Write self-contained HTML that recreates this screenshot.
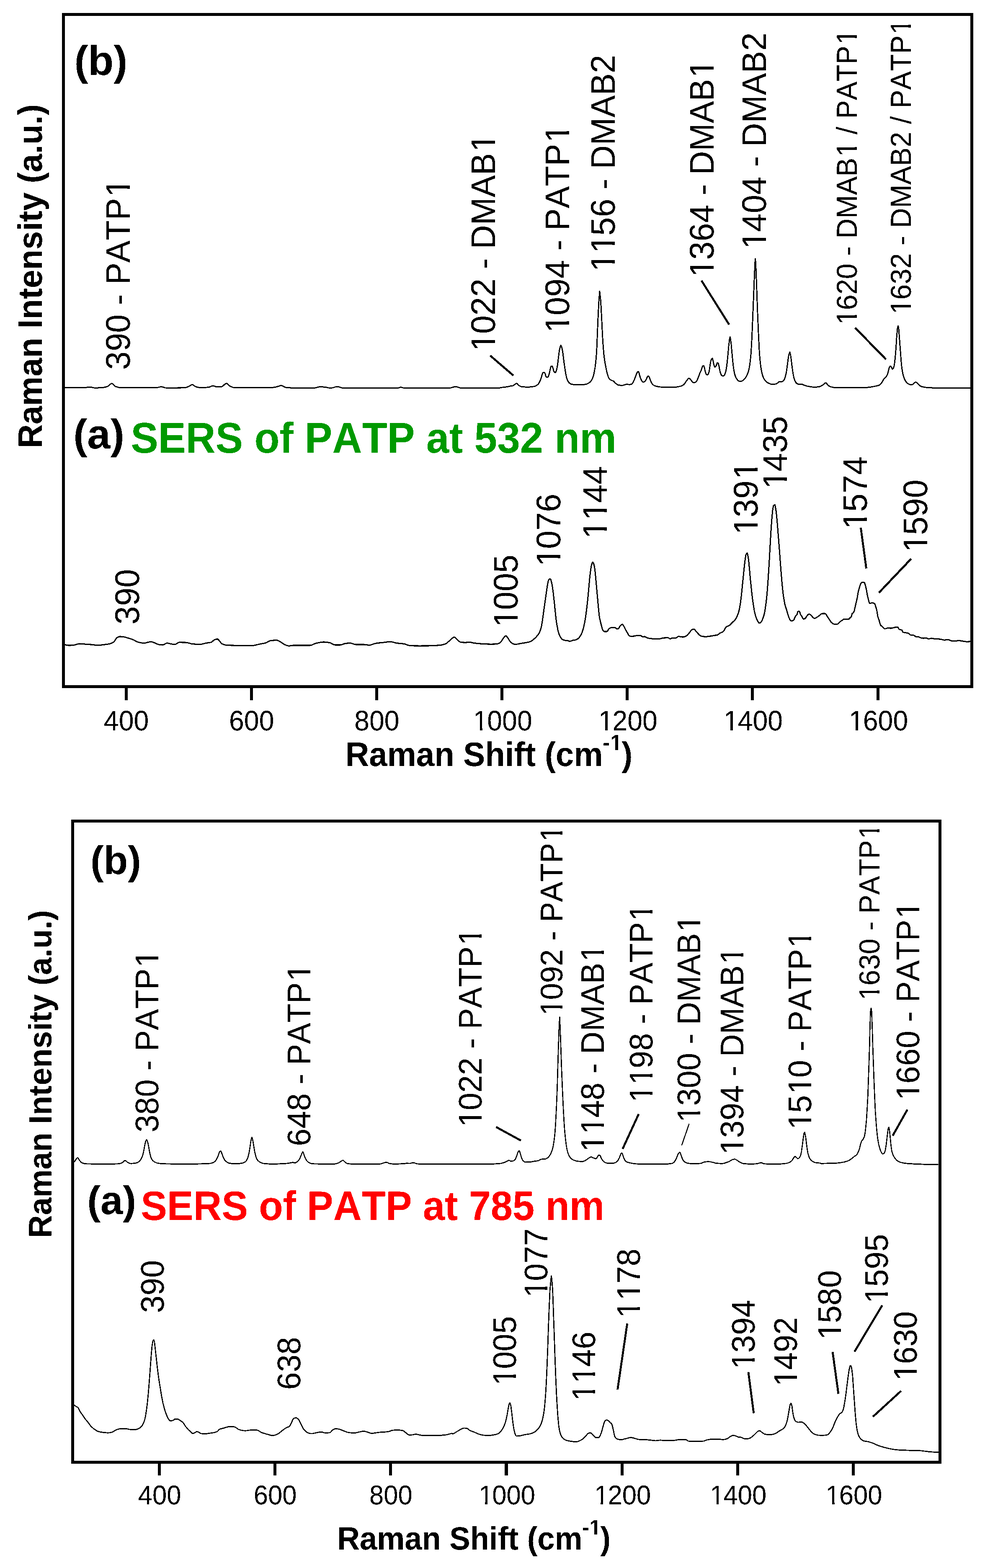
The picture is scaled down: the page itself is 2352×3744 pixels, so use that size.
<!DOCTYPE html>
<html lang="en">
<head>
<meta charset="utf-8">
<title>SERS of PATP at 532 nm and 785 nm</title>
<style>
html,body{margin:0;padding:0;background:#fff;}
body{width:2352px;height:3744px;overflow:hidden;}
svg{display:block;}
text{font-family:"Liberation Sans",sans-serif;font-kerning:none;text-rendering:geometricPrecision;white-space:pre;}
</style>
</head>
<body>
<svg width="2352" height="3744" viewBox="0 0 2352 3744">
<defs>
<filter id="bw" x="0" y="0" width="2352" height="3744" filterUnits="userSpaceOnUse" color-interpolation-filters="sRGB">
<feComponentTransfer><feFuncA type="discrete" tableValues="0 1"/></feComponentTransfer>
</filter>
<clipPath id="c1"><path clip-rule="evenodd" d="M-64.4 -83.7H207.7V32.2H-64.4ZM6.60 -5.03H18.14V1.93H6.60ZM24.21 -5.03H35.25V1.93H24.21Z"/></clipPath>
<clipPath id="c2"><path clip-rule="evenodd" d="M-64.4 -83.7H207.7V32.2H-64.4ZM6.60 -5.03H18.14V1.93H6.60ZM24.21 -5.03H35.25V1.93H24.21Z"/></clipPath>
<clipPath id="c3"><path clip-rule="evenodd" d="M-64.4 -83.7H207.7V32.2H-64.4ZM6.60 -5.03H18.14V1.93H6.60ZM24.21 -5.03H35.25V1.93H24.21Z"/></clipPath>
<clipPath id="c4"><path clip-rule="evenodd" d="M-64.4 -83.7H207.7V32.2H-64.4ZM6.60 -5.03H18.14V1.93H6.60ZM24.21 -5.03H35.25V1.93H24.21Z"/></clipPath>
<clipPath id="c5"><path clip-rule="evenodd" d="M-77.9 -124.6H778.6V46.7H-77.9ZM635.21 -41.93H644.04V-35.08H635.21ZM651.28 -41.93H659.46V-35.08H651.28Z"/></clipPath>
<clipPath id="c6"><path clip-rule="evenodd" d="M-79.3 -103.1H533.3V39.6H-79.3ZM418.03 -6.20H432.24V2.38H418.03ZM439.71 -6.20H453.30V2.38H439.71Z"/></clipPath>
<clipPath id="c7"><path clip-rule="evenodd" d="M-79.3 -103.1H599.4V39.6H-79.3ZM8.13 -6.20H22.34V2.38H8.13ZM29.81 -6.20H43.41V2.38H29.81ZM484.12 -6.20H498.34V2.38H484.12ZM505.81 -6.20H519.40V2.38H505.81Z"/></clipPath>
<clipPath id="c8"><path clip-rule="evenodd" d="M-79.3 -103.1H577.4V39.6H-79.3ZM8.13 -6.20H22.34V2.38H8.13ZM29.81 -6.20H43.41V2.38H29.81ZM462.13 -6.20H476.34V2.38H462.13ZM483.82 -6.20H497.41V2.38H483.82Z"/></clipPath>
<clipPath id="c9"><path clip-rule="evenodd" d="M-79.3 -103.1H599.4V39.6H-79.3ZM8.13 -6.20H22.34V2.38H8.13ZM29.81 -6.20H43.41V2.38H29.81ZM52.23 -6.20H66.44V2.38H52.23ZM73.92 -6.20H87.51V2.38H73.92Z"/></clipPath>
<clipPath id="c10"><path clip-rule="evenodd" d="M-79.3 -103.1H599.4V39.6H-79.3ZM8.13 -6.20H22.34V2.38H8.13ZM29.81 -6.20H43.41V2.38H29.81ZM484.12 -6.20H498.34V2.38H484.12ZM505.81 -6.20H519.40V2.38H505.81Z"/></clipPath>
<clipPath id="c11"><path clip-rule="evenodd" d="M-79.3 -103.1H599.4V39.6H-79.3ZM8.13 -6.20H22.34V2.38H8.13ZM29.81 -6.20H43.41V2.38H29.81Z"/></clipPath>
<clipPath id="c12"><path clip-rule="evenodd" d="M-66.8 -86.8H772.2V33.4H-66.8ZM6.85 -5.22H18.82V2.00H6.85ZM25.12 -5.22H36.56V2.00H25.12ZM407.81 -5.22H419.78V2.00H407.81ZM426.08 -5.22H437.53V2.00H426.08ZM675.11 -5.22H687.08V2.00H675.11ZM693.38 -5.22H704.82V2.00H693.38Z"/></clipPath>
<clipPath id="c13"><path clip-rule="evenodd" d="M-66.8 -86.8H772.2V33.4H-66.8ZM6.85 -5.22H18.82V2.00H6.85ZM25.12 -5.22H36.56V2.00H25.12ZM675.11 -5.22H687.08V2.00H675.11ZM693.38 -5.22H704.82V2.00H693.38Z"/></clipPath>
<clipPath id="c14"><path clip-rule="evenodd" d="M-79.3 -103.1H255.7V39.6H-79.3ZM8.13 -6.20H22.34V2.38H8.13ZM29.81 -6.20H43.41V2.38H29.81Z"/></clipPath>
<clipPath id="c15"><path clip-rule="evenodd" d="M-79.3 -103.1H255.7V39.6H-79.3ZM8.13 -6.20H22.34V2.38H8.13ZM29.81 -6.20H43.41V2.38H29.81Z"/></clipPath>
<clipPath id="c16"><path clip-rule="evenodd" d="M-79.3 -103.1H255.7V39.6H-79.3ZM8.13 -6.20H22.34V2.38H8.13ZM29.81 -6.20H43.41V2.38H29.81ZM52.23 -6.20H66.44V2.38H52.23ZM73.92 -6.20H87.51V2.38H73.92Z"/></clipPath>
<clipPath id="c17"><path clip-rule="evenodd" d="M-79.3 -103.1H255.7V39.6H-79.3ZM8.13 -6.20H22.34V2.38H8.13ZM29.81 -6.20H43.41V2.38H29.81ZM140.44 -6.20H154.65V2.38H140.44ZM162.12 -6.20H175.71V2.38H162.12Z"/></clipPath>
<clipPath id="c18"><path clip-rule="evenodd" d="M-79.3 -103.1H255.7V39.6H-79.3ZM8.13 -6.20H22.34V2.38H8.13ZM29.81 -6.20H43.41V2.38H29.81Z"/></clipPath>
<clipPath id="c19"><path clip-rule="evenodd" d="M-79.3 -103.1H255.7V39.6H-79.3ZM8.13 -6.20H22.34V2.38H8.13ZM29.81 -6.20H43.41V2.38H29.81Z"/></clipPath>
<clipPath id="c20"><path clip-rule="evenodd" d="M-79.3 -103.1H255.7V39.6H-79.3ZM8.13 -6.20H22.34V2.38H8.13ZM29.81 -6.20H43.41V2.38H29.81Z"/></clipPath>
<clipPath id="c21"><path clip-rule="evenodd" d="M-61.6 -80.1H198.6V30.8H-61.6ZM6.32 -4.81H17.36V1.85H6.32ZM23.16 -4.81H33.72V1.85H23.16Z"/></clipPath>
<clipPath id="c22"><path clip-rule="evenodd" d="M-61.6 -80.1H198.6V30.8H-61.6ZM6.32 -4.81H17.36V1.85H6.32ZM23.16 -4.81H33.72V1.85H23.16Z"/></clipPath>
<clipPath id="c23"><path clip-rule="evenodd" d="M-61.6 -80.1H198.6V30.8H-61.6ZM6.32 -4.81H17.36V1.85H6.32ZM23.16 -4.81H33.72V1.85H23.16Z"/></clipPath>
<clipPath id="c24"><path clip-rule="evenodd" d="M-61.6 -80.1H198.6V30.8H-61.6ZM6.32 -4.81H17.36V1.85H6.32ZM23.16 -4.81H33.72V1.85H23.16Z"/></clipPath>
<clipPath id="c25"><path clip-rule="evenodd" d="M-74.2 -118.7H741.7V44.5H-74.2ZM605.06 -39.94H613.46V-33.41H605.06ZM620.36 -39.94H628.15V-33.41H620.36Z"/></clipPath>
<clipPath id="c26"><path clip-rule="evenodd" d="M-75.7 -98.4H509.1V37.9H-75.7ZM399.05 -5.91H412.62V2.27H399.05ZM419.75 -5.91H432.72V2.27H419.75Z"/></clipPath>
<clipPath id="c27"><path clip-rule="evenodd" d="M-75.7 -98.4H509.1V37.9H-75.7ZM399.05 -5.91H412.62V2.27H399.05ZM419.75 -5.91H432.72V2.27H419.75Z"/></clipPath>
<clipPath id="c28"><path clip-rule="evenodd" d="M-75.7 -98.4H551.2V37.9H-75.7ZM7.76 -5.91H21.33V2.27H7.76ZM28.46 -5.91H41.44V2.27H28.46ZM441.15 -5.91H454.72V2.27H441.15ZM461.85 -5.91H474.83V2.27H461.85Z"/></clipPath>
<clipPath id="c29"><path clip-rule="evenodd" d="M-72.5 -94.2H527.9V36.2H-72.5ZM7.43 -5.66H20.43V2.17H7.43ZM27.26 -5.66H39.68V2.17H27.26ZM422.50 -5.66H435.50V2.17H422.50ZM442.33 -5.66H454.75V2.17H442.33Z"/></clipPath>
<clipPath id="c30"><path clip-rule="evenodd" d="M-75.7 -98.4H572.2V37.9H-75.7ZM7.76 -5.91H21.33V2.27H7.76ZM28.46 -5.91H41.44V2.27H28.46ZM49.86 -5.91H63.43V2.27H49.86ZM70.56 -5.91H83.54V2.27H70.56ZM462.15 -5.91H475.71V2.27H462.15ZM482.85 -5.91H495.82V2.27H482.85Z"/></clipPath>
<clipPath id="c31"><path clip-rule="evenodd" d="M-75.7 -98.4H551.2V37.9H-75.7ZM7.76 -5.91H21.33V2.27H7.76ZM28.46 -5.91H41.44V2.27H28.46ZM49.86 -5.91H63.43V2.27H49.86ZM70.56 -5.91H83.54V2.27H70.56ZM441.15 -5.91H454.72V2.27H441.15ZM461.85 -5.91H474.83V2.27H461.85Z"/></clipPath>
<clipPath id="c32"><path clip-rule="evenodd" d="M-75.7 -98.4H572.2V37.9H-75.7ZM7.76 -5.91H21.33V2.27H7.76ZM28.46 -5.91H41.44V2.27H28.46ZM462.15 -5.91H475.71V2.27H462.15ZM482.85 -5.91H495.82V2.27H482.85Z"/></clipPath>
<clipPath id="c33"><path clip-rule="evenodd" d="M-75.7 -98.4H572.2V37.9H-75.7ZM7.76 -5.91H21.33V2.27H7.76ZM28.46 -5.91H41.44V2.27H28.46ZM462.15 -5.91H475.71V2.27H462.15ZM482.85 -5.91H495.82V2.27H482.85Z"/></clipPath>
<clipPath id="c34"><path clip-rule="evenodd" d="M-75.7 -98.4H551.2V37.9H-75.7ZM7.76 -5.91H21.33V2.27H7.76ZM28.46 -5.91H41.44V2.27H28.46ZM91.96 -5.91H105.53V2.27H91.96ZM112.66 -5.91H125.64V2.27H112.66ZM441.15 -5.91H454.72V2.27H441.15ZM461.85 -5.91H474.83V2.27H461.85Z"/></clipPath>
<clipPath id="c35"><path clip-rule="evenodd" d="M-67.2 -87.4H489.3V33.6H-67.2ZM6.89 -5.25H18.93V2.02H6.89ZM25.27 -5.25H36.78V2.02H25.27ZM391.62 -5.25H403.66V2.02H391.62ZM409.99 -5.25H421.51V2.02H409.99Z"/></clipPath>
<clipPath id="c36"><path clip-rule="evenodd" d="M-75.7 -98.4H551.2V37.9H-75.7ZM7.76 -5.91H21.33V2.27H7.76ZM28.46 -5.91H41.44V2.27H28.46ZM441.15 -5.91H454.72V2.27H441.15ZM461.85 -5.91H474.83V2.27H461.85Z"/></clipPath>
<clipPath id="c37"><path clip-rule="evenodd" d="M-75.7 -98.4H244.1V37.9H-75.7ZM7.76 -5.91H21.33V2.27H7.76ZM28.46 -5.91H41.44V2.27H28.46Z"/></clipPath>
<clipPath id="c38"><path clip-rule="evenodd" d="M-75.7 -98.4H244.1V37.9H-75.7ZM7.76 -5.91H21.33V2.27H7.76ZM28.46 -5.91H41.44V2.27H28.46Z"/></clipPath>
<clipPath id="c39"><path clip-rule="evenodd" d="M-75.7 -98.4H244.1V37.9H-75.7ZM7.76 -5.91H21.33V2.27H7.76ZM28.46 -5.91H41.44V2.27H28.46ZM49.86 -5.91H63.43V2.27H49.86ZM70.56 -5.91H83.54V2.27H70.56Z"/></clipPath>
<clipPath id="c40"><path clip-rule="evenodd" d="M-75.7 -98.4H244.1V37.9H-75.7ZM7.76 -5.91H21.33V2.27H7.76ZM28.46 -5.91H41.44V2.27H28.46ZM49.86 -5.91H63.43V2.27H49.86ZM70.56 -5.91H83.54V2.27H70.56Z"/></clipPath>
<clipPath id="c41"><path clip-rule="evenodd" d="M-75.7 -98.4H244.1V37.9H-75.7ZM7.76 -5.91H21.33V2.27H7.76ZM28.46 -5.91H41.44V2.27H28.46Z"/></clipPath>
<clipPath id="c42"><path clip-rule="evenodd" d="M-75.7 -98.4H244.1V37.9H-75.7ZM7.76 -5.91H21.33V2.27H7.76ZM28.46 -5.91H41.44V2.27H28.46Z"/></clipPath>
<clipPath id="c43"><path clip-rule="evenodd" d="M-75.7 -98.4H244.1V37.9H-75.7ZM7.76 -5.91H21.33V2.27H7.76ZM28.46 -5.91H41.44V2.27H28.46Z"/></clipPath>
<clipPath id="c44"><path clip-rule="evenodd" d="M-75.7 -98.4H244.1V37.9H-75.7ZM7.76 -5.91H21.33V2.27H7.76ZM28.46 -5.91H41.44V2.27H28.46Z"/></clipPath>
<clipPath id="c45"><path clip-rule="evenodd" d="M-75.7 -98.4H244.1V37.9H-75.7ZM7.76 -5.91H21.33V2.27H7.76ZM28.46 -5.91H41.44V2.27H28.46Z"/></clipPath>
</defs>
<rect width="2352" height="3744" fill="#fff"/>
<g filter="url(#bw)">
<g id="top">
<path d="M150.7 925.8L152.2 925.8L153.8 925.8L155.3 925.8L156.8 925.8L158.3 925.8L159.8 925.8L161.4 925.8L162.9 925.8L164.4 925.8L165.9 925.8L167.4 925.8L169.0 925.8L170.5 925.8L172.0 925.8L173.5 925.8L175.0 925.8L176.6 925.8L178.1 925.8L179.6 925.8L181.1 925.8L182.7 925.8L184.2 925.8L185.7 925.8L187.2 925.8L188.7 925.8L190.3 925.8L191.8 925.8L193.3 925.8L194.8 925.8L196.3 925.8L197.9 925.8L199.4 925.8L200.9 925.8L202.5 925.7L204.1 925.5L205.7 925.2L207.3 924.9L208.8 924.6L210.4 924.3L212.0 924.1L213.6 924.0L215.2 924.1L216.8 924.3L218.4 924.7L220.0 925.1L221.6 925.5L223.2 925.8L224.7 926.1L226.3 926.2L227.9 926.2L229.4 926.1L230.9 926.1L232.4 926.1L233.9 926.0L235.4 926.0L236.9 925.9L238.5 925.8L240.0 925.7L241.5 925.6L243.0 925.5L244.5 925.4L246.1 925.3L247.7 925.1L249.3 924.8L250.9 924.4L252.5 924.0L254.1 923.6L255.6 923.1L257.2 922.5L258.6 921.8L260.0 920.7L261.4 919.3L262.8 918.0L264.2 916.8L265.7 915.9L267.1 915.6L268.4 916.1L269.8 917.2L271.2 918.7L272.6 920.3L274.0 921.7L275.4 922.5L276.9 923.1L278.3 923.6L279.8 924.0L281.2 924.5L282.7 924.8L284.1 925.2L285.6 925.4L287.0 925.6L288.5 925.8L290.0 925.8L291.4 925.8L292.9 925.8L294.4 925.8L295.9 925.8L297.4 925.8L298.9 925.8L300.4 925.8L301.9 925.8L303.3 925.8L304.8 925.8L306.3 925.8L307.8 925.8L309.3 925.8L310.8 925.8L312.3 925.8L313.7 925.8L315.2 925.8L316.7 925.8L318.2 925.8L319.7 925.8L321.2 925.8L322.7 925.8L324.2 925.8L325.6 925.8L327.1 925.8L328.6 925.8L330.1 925.8L331.6 925.8L333.1 925.8L334.6 925.8L336.1 925.8L337.5 925.8L339.0 925.8L340.5 925.8L342.0 925.8L343.5 925.8L345.0 925.8L346.5 925.8L348.0 925.8L349.4 925.8L350.9 925.8L352.4 925.8L353.9 925.8L355.4 925.8L356.9 925.8L358.4 925.8L359.8 925.8L361.3 925.8L362.8 925.8L364.3 925.8L365.8 925.8L367.3 925.8L368.8 925.8L370.3 925.8L371.7 925.8L373.2 925.7L374.7 925.5L376.2 925.2L377.7 924.9L379.2 924.5L380.7 924.2L382.2 923.9L383.7 923.7L385.2 923.6L386.7 923.7L388.2 924.0L389.7 924.4L391.2 924.9L392.7 925.4L394.2 925.8L395.7 926.1L397.2 926.2L398.7 926.2L400.2 926.2L401.7 926.2L403.2 926.2L404.7 926.2L406.2 926.1L407.7 926.1L409.2 926.1L410.7 926.1L412.2 926.1L413.7 926.1L415.2 926.1L416.7 926.1L418.2 926.1L419.8 926.1L421.3 926.1L422.8 926.1L424.3 926.0L425.8 926.0L427.3 926.0L428.8 926.0L430.3 926.0L431.8 926.0L433.3 925.9L434.8 925.9L436.3 925.9L437.8 925.9L439.3 925.8L440.8 925.8L442.3 925.7L443.7 925.4L445.2 924.9L446.6 924.4L448.1 923.7L449.5 923.1L451.0 922.5L452.6 921.7L454.2 920.7L455.8 919.6L457.4 918.8L459.0 918.5L460.5 918.8L462.0 919.7L463.5 920.8L465.0 921.9L466.6 923.0L468.1 923.6L469.7 924.0L471.3 924.4L472.8 924.8L474.4 925.1L476.0 925.4L477.6 925.6L479.2 925.7L480.8 925.8L482.3 925.8L483.8 925.7L485.3 925.7L486.9 925.6L488.4 925.5L489.9 925.4L491.4 925.2L492.9 925.1L494.4 924.9L495.9 924.7L497.5 924.5L499.0 924.3L500.4 924.0L501.9 923.5L503.3 922.9L504.8 922.2L506.2 921.6L507.7 921.2L509.2 921.1L510.8 921.3L512.4 922.0L514.0 922.7L515.6 923.4L517.2 923.6L518.7 923.6L520.3 923.6L521.8 923.6L523.4 923.6L524.9 923.6L526.5 923.6L528.1 923.6L529.6 923.3L531.2 922.4L532.8 921.1L534.4 919.6L536.0 918.1L537.6 916.9L539.2 916.0L540.8 915.6L542.3 916.0L543.8 917.1L545.3 918.6L546.8 920.2L548.4 921.6L549.9 922.5L551.5 923.1L553.0 923.7L554.6 924.3L556.2 924.8L557.8 925.2L559.4 925.5L561.0 925.7L562.6 925.8L564.1 925.8L565.6 925.8L567.1 925.8L568.5 925.8L570.0 925.8L571.5 925.8L573.0 925.8L574.5 925.8L576.0 925.8L577.5 925.8L578.9 925.8L580.4 925.8L581.9 925.8L583.4 925.8L584.9 925.8L586.4 925.8L587.9 925.8L589.4 925.8L590.8 925.8L592.3 925.8L593.8 925.8L595.3 925.8L596.8 925.8L598.3 925.8L599.8 925.8L601.3 925.8L602.7 925.8L604.2 925.8L605.7 925.8L607.2 925.8L608.7 925.8L610.2 925.8L611.7 925.8L613.2 925.8L614.6 925.8L616.1 925.8L617.6 925.8L619.1 925.8L620.6 925.8L622.1 925.8L623.6 925.8L625.0 925.8L626.5 925.8L628.0 925.8L629.5 925.8L631.0 925.8L632.5 925.8L634.0 925.8L635.5 925.8L636.9 925.8L638.4 925.8L639.9 925.8L641.4 925.8L642.9 925.8L644.4 925.8L645.8 925.8L647.3 925.7L648.7 925.6L650.2 925.4L651.7 925.2L653.1 925.0L654.6 924.7L656.0 924.5L657.5 924.2L658.9 924.0L660.5 923.6L662.1 923.2L663.7 922.6L665.3 922.1L666.9 921.6L668.5 921.1L670.1 920.8L671.6 920.7L673.2 920.9L674.8 921.5L676.3 922.3L677.9 923.2L679.4 924.0L681.0 924.7L682.6 925.1L684.0 925.2L685.5 925.4L686.9 925.5L688.4 925.6L689.8 925.8L691.3 925.9L692.7 926.0L694.2 926.0L695.6 926.1L697.1 926.1L698.5 926.2L700.0 926.2L701.5 926.2L703.0 926.2L704.5 926.2L706.0 926.2L707.5 926.2L709.0 926.2L710.5 926.2L712.0 926.2L713.5 926.2L715.0 926.2L716.5 926.2L718.0 926.2L719.5 926.2L721.0 926.2L722.5 926.2L723.9 926.2L725.4 926.2L726.9 926.2L728.4 926.2L729.9 926.2L731.4 926.2L732.9 926.2L734.4 926.2L735.9 926.2L737.4 926.2L738.9 926.2L740.4 926.2L741.9 926.2L743.4 926.2L744.9 926.2L746.4 926.2L747.9 926.2L749.4 926.2L750.9 926.2L752.4 926.1L754.0 925.8L755.5 925.5L757.0 925.1L758.6 924.7L760.1 924.3L761.6 923.9L763.2 923.7L764.7 923.6L766.2 923.6L767.7 923.7L769.2 923.8L770.7 923.9L772.2 924.0L773.7 924.2L775.2 924.4L776.7 924.5L778.2 924.7L779.7 924.9L781.3 925.2L782.8 925.6L784.4 925.9L785.9 926.2L787.5 926.4L789.1 926.5L790.6 926.4L792.2 926.2L793.7 925.9L795.3 925.5L796.8 925.1L798.4 924.7L799.9 924.2L801.5 923.8L803.0 923.5L804.6 923.3L806.1 923.3L807.6 923.4L809.1 923.7L810.6 924.2L812.1 924.7L813.6 925.2L815.1 925.7L816.6 926.0L818.1 926.2L819.7 926.2L821.2 926.2L822.7 926.2L824.2 926.2L825.7 926.2L827.2 926.2L828.7 926.2L830.2 926.2L831.7 926.2L833.2 926.2L834.7 926.2L836.2 926.2L837.7 926.2L839.3 926.2L840.8 926.2L842.3 926.2L843.8 926.2L845.3 926.2L846.8 926.2L848.3 926.2L849.8 926.2L851.3 926.2L852.8 926.2L854.3 926.2L855.8 926.2L857.3 926.2L858.9 926.2L860.4 926.2L861.9 926.2L863.4 926.2L864.9 926.2L866.4 926.2L867.9 926.2L869.4 926.2L870.9 926.2L872.4 926.2L873.9 926.2L875.4 926.2L876.9 926.2L878.5 926.2L880.0 926.2L881.5 926.2L883.0 926.2L884.5 926.2L886.0 926.2L887.5 926.2L889.0 926.2L890.5 926.2L892.0 926.2L893.5 926.2L895.0 926.2L896.5 926.2L898.1 926.2L899.6 926.2L901.1 926.2L902.6 926.2L904.1 926.2L905.6 926.2L907.1 926.2L908.6 926.2L910.1 926.2L911.6 926.2L913.1 926.2L914.6 926.2L916.1 926.2L917.7 926.2L919.2 926.2L920.7 926.2L922.2 926.2L923.7 926.2L925.2 926.2L926.7 926.2L928.2 926.2L929.7 926.2L931.2 926.2L932.7 926.2L934.2 926.2L935.7 926.2L937.3 926.2L938.8 926.2L940.3 926.2L941.8 926.2L943.3 926.2L944.8 926.2L946.3 926.2L947.8 926.2L949.3 926.2L950.8 926.2L952.5 925.9L954.1 925.4L955.7 924.9L957.4 924.7L958.9 924.9L960.5 925.4L962.0 925.9L963.5 926.2L965.0 926.2L966.5 926.2L968.0 926.2L969.5 926.2L971.0 926.2L972.5 926.2L974.0 926.2L975.5 926.2L977.0 926.2L978.5 926.2L980.0 926.2L981.5 926.2L983.0 926.2L984.5 926.2L986.0 926.2L987.5 926.2L989.0 926.2L990.5 926.2L992.0 926.2L993.5 926.2L995.0 926.2L996.5 926.2L998.0 926.2L999.5 926.2L1001.0 926.2L1002.5 926.2L1004.0 926.2L1005.5 926.2L1007.0 926.2L1008.5 926.2L1010.0 926.2L1011.5 926.2L1013.0 926.2L1014.5 926.2L1016.0 926.2L1017.5 926.2L1019.0 926.2L1020.5 926.2L1022.0 926.2L1023.5 926.2L1025.0 926.2L1026.5 926.2L1028.0 926.2L1029.5 926.2L1031.0 926.2L1032.5 926.2L1034.0 926.2L1035.5 926.2L1037.0 926.2L1038.5 926.2L1040.0 926.2L1041.5 926.2L1043.0 926.2L1044.5 926.2L1046.0 926.2L1047.5 926.2L1049.0 926.2L1050.4 926.2L1051.9 926.2L1053.4 926.2L1054.9 926.2L1056.4 926.2L1057.9 926.2L1059.4 926.2L1060.9 926.2L1062.4 926.2L1063.9 926.2L1065.4 926.2L1066.9 926.2L1068.4 926.2L1069.9 926.2L1071.4 926.2L1072.9 926.2L1074.4 926.2L1076.0 926.1L1077.5 925.8L1079.0 925.4L1080.6 924.9L1082.1 924.5L1083.6 924.0L1085.2 923.6L1086.7 923.4L1088.2 923.3L1089.7 923.4L1091.1 923.7L1092.6 924.2L1094.1 924.7L1095.5 925.2L1097.0 925.7L1098.4 926.0L1099.9 926.2L1101.4 926.2L1102.8 926.2L1104.3 926.2L1105.8 926.2L1107.3 926.2L1108.8 926.2L1110.3 926.2L1111.8 926.2L1113.3 926.2L1114.8 926.2L1116.3 926.2L1117.7 926.2L1119.2 926.2L1120.7 926.2L1122.2 926.2L1123.7 926.2L1125.2 926.2L1126.7 926.2L1128.2 926.2L1129.7 926.2L1131.2 926.2L1132.6 926.2L1134.1 926.2L1135.6 926.2L1137.1 926.2L1138.6 926.2L1140.1 926.2L1141.6 926.2L1143.1 926.2L1144.6 926.2L1146.1 926.2L1147.5 926.2L1149.0 926.2L1150.5 926.2L1152.0 926.2L1153.5 926.2L1155.0 926.2L1156.5 926.2L1158.0 926.2L1159.5 926.2L1161.0 926.2L1162.4 926.2L1163.9 926.2L1165.4 926.2L1166.9 926.2L1168.4 926.2L1169.9 926.2L1171.4 926.2L1172.9 926.2L1174.4 926.2L1175.8 926.2L1177.3 926.2L1178.8 926.2L1180.3 926.2L1181.8 926.2L1183.3 926.2L1184.8 926.2L1186.3 926.2L1187.8 926.2L1189.3 926.2L1190.7 926.2L1192.3 926.1L1193.9 926.0L1195.4 925.7L1197.0 925.5L1198.5 925.2L1200.1 924.9L1201.7 924.7L1203.2 924.5L1204.8 924.3L1206.3 924.1L1207.9 924.0L1209.4 923.8L1211.0 923.5L1212.6 923.3L1214.2 922.8L1215.9 922.4L1217.4 922.1L1218.9 921.8L1220.5 921.6L1222.0 921.4L1223.6 921.1L1225.1 920.8L1226.5 920.1L1227.9 919.1L1229.3 917.8L1230.8 916.7L1232.2 915.8L1233.6 915.5L1235.1 916.1L1236.6 917.7L1238.1 919.5L1239.7 920.8L1241.3 921.7L1243.0 922.5L1244.6 923.1L1246.3 923.4L1247.7 923.6L1249.2 923.7L1250.6 923.8L1252.1 923.9L1253.5 924.0L1255.0 924.1L1256.4 924.1L1257.9 924.2L1259.4 924.2L1260.8 924.2L1262.2 924.2L1263.7 924.1L1265.1 924.0L1266.6 923.9L1268.0 923.8L1269.5 923.6L1270.9 923.4L1272.3 923.2L1273.8 922.9L1275.2 922.6L1276.7 922.4L1278.3 921.9L1279.8 921.1L1281.4 920.2L1283.0 919.0L1284.6 917.6L1286.3 915.6L1287.9 912.8L1289.6 909.4L1291.2 905.7L1292.5 901.5L1293.9 896.3L1295.2 891.8L1296.5 889.8L1297.8 889.8L1299.1 889.8L1300.5 889.8L1301.8 892.6L1303.1 897.7L1304.4 900.4L1305.8 900.4L1307.1 900.4L1308.4 900.4L1309.7 898.3L1311.0 893.6L1312.4 888.5L1314.1 880.2L1315.8 874.8L1317.4 874.8L1319.0 874.8L1320.6 879.6L1322.1 885.9L1323.9 888.6L1325.6 889.8L1327.3 887.8L1329.0 883.2L1330.6 875.5L1332.2 864.7L1333.8 850.8L1335.4 838.3L1336.7 831.8L1338.0 826.6L1339.3 824.5L1341.0 828.2L1342.8 835.6L1344.1 843.7L1345.4 854.4L1346.7 864.7L1348.1 874.2L1349.4 883.4L1350.7 891.2L1352.0 897.5L1353.3 903.0L1354.7 907.0L1356.0 909.8L1357.3 912.1L1358.6 913.6L1360.3 915.1L1361.9 916.3L1363.6 917.1L1365.2 917.6L1366.8 917.8L1368.3 918.0L1369.8 918.1L1371.3 918.3L1372.9 918.4L1374.4 918.5L1375.9 918.6L1377.4 918.7L1379.0 918.8L1380.5 918.8L1382.0 918.9L1383.5 918.9L1385.1 918.9L1386.5 918.9L1388.0 918.8L1389.5 918.7L1390.9 918.6L1392.4 918.5L1393.9 918.3L1395.3 918.1L1396.8 917.8L1398.3 917.6L1399.8 917.3L1401.3 916.8L1402.8 916.1L1404.3 915.4L1405.8 914.5L1407.3 913.4L1408.9 912.3L1410.5 910.7L1412.2 908.3L1413.8 905.4L1415.5 901.7L1416.8 897.8L1418.1 892.4L1419.4 885.8L1420.8 877.9L1422.1 868.3L1423.4 855.3L1424.7 838.3L1426.0 807.7L1427.4 772.2L1428.7 743.5L1430.0 719.3L1431.9 695.5L1434.0 714.0L1435.3 734.2L1436.6 759.0L1437.9 786.3L1439.3 811.8L1440.6 831.3L1441.9 846.2L1443.2 856.7L1444.5 865.2L1445.9 872.7L1447.2 879.6L1448.5 885.9L1449.8 891.2L1451.3 896.4L1452.8 900.9L1454.3 903.8L1455.8 905.5L1457.4 906.7L1458.9 907.6L1460.4 908.3L1461.7 908.8L1463.1 909.2L1464.4 909.7L1465.7 910.7L1467.0 912.1L1468.3 913.7L1469.7 915.0L1471.2 916.2L1472.8 917.4L1474.4 918.5L1476.0 919.3L1477.6 919.7L1479.2 919.9L1480.8 920.0L1482.4 920.1L1483.9 920.2L1485.5 920.2L1487.1 920.1L1488.7 919.7L1490.3 919.2L1491.9 918.6L1493.5 918.1L1494.8 917.7L1496.1 917.3L1497.4 917.1L1498.7 917.3L1500.1 917.8L1501.4 918.1L1503.0 918.1L1504.7 918.0L1506.3 917.8L1508.0 917.6L1509.3 916.7L1510.6 914.8L1512.0 912.3L1513.3 909.7L1514.6 906.8L1515.9 903.4L1517.3 899.8L1518.6 896.4L1520.3 891.8L1522.0 888.5L1523.3 887.6L1524.7 887.2L1526.2 891.3L1527.8 897.8L1529.1 901.8L1530.5 905.6L1531.8 908.3L1533.1 910.2L1534.4 911.7L1535.8 912.3L1537.1 912.1L1538.4 911.7L1539.7 911.0L1541.0 909.4L1542.4 906.9L1543.7 904.4L1545.0 901.7L1546.3 899.0L1547.7 897.8L1549.0 898.6L1550.3 900.4L1551.6 903.4L1552.9 907.5L1554.3 911.0L1555.6 913.5L1556.9 915.8L1558.2 917.6L1559.6 918.9L1561.1 919.9L1562.7 920.8L1564.3 921.4L1565.9 921.9L1567.5 922.4L1569.0 922.7L1570.4 923.0L1571.9 923.3L1573.4 923.5L1574.8 923.7L1576.3 923.9L1577.8 924.1L1579.2 924.2L1580.7 924.2L1582.2 924.2L1583.7 924.2L1585.1 924.2L1586.6 924.2L1588.1 924.3L1589.6 924.3L1591.0 924.3L1592.5 924.3L1594.0 924.3L1595.5 924.3L1597.0 924.3L1598.4 924.3L1599.9 924.3L1601.4 924.3L1602.9 924.3L1604.3 924.3L1605.8 924.3L1607.3 924.3L1608.8 924.3L1610.2 924.3L1611.7 924.3L1613.2 924.3L1614.7 924.2L1616.1 924.0L1617.6 923.8L1619.1 923.5L1620.5 923.2L1622.0 922.9L1623.5 922.6L1624.9 922.2L1626.5 921.7L1628.1 921.1L1629.7 920.3L1631.3 919.3L1632.9 918.2L1634.5 916.4L1636.2 913.9L1637.8 911.2L1639.5 909.0L1641.0 907.1L1642.5 905.2L1644.0 903.7L1645.6 903.2L1647.1 904.0L1648.6 905.8L1650.1 907.7L1651.4 909.4L1652.7 911.4L1654.0 913.0L1655.3 913.7L1656.7 913.7L1658.0 913.5L1659.3 913.3L1660.6 912.9L1662.0 912.0L1663.3 910.1L1664.6 907.6L1665.9 905.0L1667.2 901.8L1668.6 897.9L1669.9 893.9L1671.2 890.5L1672.9 887.3L1674.6 883.9L1676.0 878.7L1677.3 874.6L1678.9 873.6L1680.5 873.3L1682.0 877.9L1683.6 885.2L1685.0 890.3L1686.3 893.6L1688.0 894.8L1689.7 895.2L1691.4 892.9L1693.2 887.8L1694.7 877.8L1696.3 866.7L1697.6 861.0L1699.0 857.4L1701.1 855.6L1702.4 859.9L1703.7 866.7L1705.3 873.1L1706.9 876.7L1708.5 875.6L1710.1 873.3L1711.4 869.2L1712.7 866.1L1714.0 866.7L1715.4 868.0L1716.7 873.6L1718.0 881.2L1719.7 888.5L1721.4 893.6L1723.2 896.4L1724.9 897.6L1726.7 897.5L1728.6 897.1L1730.0 895.5L1731.4 892.2L1732.8 887.8L1734.7 878.2L1736.5 864.0L1738.1 847.4L1739.7 829.7L1741.8 811.2L1743.4 804.5L1745.5 817.8L1746.8 830.8L1748.1 845.5L1749.7 862.8L1751.3 877.3L1753.2 888.2L1755.0 895.8L1756.6 900.1L1758.2 903.4L1759.8 905.8L1761.1 907.3L1762.4 908.6L1763.7 909.6L1765.1 910.0L1766.6 910.2L1768.2 910.3L1769.8 910.3L1771.3 910.0L1772.7 909.2L1774.2 908.1L1775.6 906.9L1777.1 905.5L1778.5 903.9L1780.0 901.9L1781.5 899.7L1782.8 897.4L1784.1 894.8L1785.4 891.6L1786.7 887.8L1788.5 881.2L1790.2 872.0L1791.6 860.9L1793.1 845.5L1794.3 826.7L1795.5 803.2L1797.3 760.9L1799.4 708.1L1801.3 660.5L1802.9 626.1L1803.7 617.6L1805.0 639.3L1806.8 686.9L1808.9 745.1L1811.1 797.9L1813.2 840.2L1814.5 856.9L1815.8 869.3L1817.5 881.6L1819.3 890.5L1820.6 895.3L1821.9 899.3L1823.2 902.4L1824.5 904.9L1825.9 907.0L1827.2 908.9L1828.5 910.3L1830.2 911.7L1831.8 913.0L1833.5 914.0L1835.1 914.8L1836.7 915.5L1838.3 916.2L1839.9 916.8L1841.5 917.3L1843.1 917.4L1844.6 917.4L1846.1 917.4L1847.7 917.3L1849.2 917.2L1850.8 917.1L1852.3 916.9L1853.9 916.4L1855.5 915.4L1857.1 914.3L1858.7 912.7L1860.2 911.6L1861.6 911.6L1862.9 911.6L1864.2 911.6L1865.5 911.6L1866.8 911.4L1868.2 910.8L1869.5 910.0L1870.8 909.0L1872.1 907.3L1873.5 904.5L1874.8 901.0L1876.5 894.4L1878.2 885.2L1879.8 873.6L1881.4 861.4L1882.7 852.3L1884.0 845.5L1886.1 840.8L1888.3 850.8L1889.6 860.9L1890.9 872.0L1892.5 884.2L1894.1 894.4L1895.9 902.7L1897.8 908.4L1899.4 911.6L1901.0 914.1L1902.5 915.6L1903.9 916.3L1905.2 916.9L1906.5 917.3L1907.8 917.4L1909.5 917.4L1911.1 917.4L1912.8 917.4L1914.4 917.4L1916.1 917.8L1917.7 918.5L1919.4 919.4L1921.0 920.1L1922.6 920.5L1924.1 921.0L1925.6 921.4L1927.1 921.8L1928.6 922.1L1930.1 922.5L1931.6 922.7L1933.1 923.0L1934.6 923.2L1936.0 923.5L1937.5 923.7L1939.0 923.9L1940.4 924.1L1941.9 924.2L1943.4 924.3L1944.8 924.3L1946.3 924.3L1947.9 924.2L1949.4 924.1L1950.9 924.0L1952.4 923.9L1953.9 923.7L1955.4 923.5L1957.0 923.2L1958.6 922.5L1960.2 921.8L1961.8 920.9L1963.3 920.1L1964.7 919.3L1966.1 918.5L1967.5 917.3L1968.9 915.9L1970.3 914.6L1971.7 914.1L1973.4 915.1L1975.0 917.1L1976.6 919.0L1978.0 920.2L1979.3 921.3L1980.7 922.2L1982.0 922.9L1983.4 923.4L1984.8 923.8L1986.2 924.2L1987.6 924.6L1989.0 924.8L1990.4 925.0L1991.8 925.1L1993.3 925.2L1994.7 925.3L1996.2 925.3L1997.7 925.4L1999.1 925.5L2000.6 925.5L2002.1 925.6L2003.5 925.6L2005.0 925.6L2006.5 925.7L2007.9 925.7L2009.4 925.7L2010.9 925.8L2012.3 925.8L2013.8 925.8L2015.3 925.8L2016.7 925.8L2018.2 925.8L2019.7 925.9L2021.1 925.9L2022.7 925.9L2024.2 925.9L2025.7 925.9L2027.3 925.9L2028.8 925.9L2030.3 925.9L2031.8 925.9L2033.4 925.9L2034.9 925.9L2036.4 925.9L2037.9 925.9L2039.5 925.9L2041.0 925.9L2042.5 925.9L2044.1 925.9L2045.6 925.9L2047.1 925.9L2048.6 925.9L2050.2 925.9L2051.7 925.9L2053.2 925.9L2054.8 925.9L2056.3 925.9L2057.8 925.9L2059.4 925.8L2060.9 925.8L2062.5 925.7L2064.0 925.6L2065.6 925.5L2067.2 925.4L2068.7 925.3L2070.3 925.1L2071.8 925.0L2073.4 924.8L2074.9 924.6L2076.4 924.5L2077.9 924.3L2079.3 924.1L2080.8 923.8L2082.3 923.6L2083.7 923.3L2085.2 923.1L2086.7 922.8L2088.1 922.5L2089.6 922.2L2091.0 921.9L2092.4 921.7L2093.8 921.4L2095.2 921.1L2096.6 920.7L2098.0 920.3L2099.4 919.7L2100.9 918.8L2102.4 917.3L2104.0 915.6L2105.5 913.6L2107.1 910.9L2108.8 907.7L2110.4 905.1L2112.0 903.3L2113.7 901.9L2115.3 900.2L2116.7 898.3L2118.1 895.9L2119.4 892.8L2120.7 888.3L2121.9 883.1L2123.8 876.5L2125.1 874.8L2126.3 874.0L2127.5 875.0L2128.7 876.9L2130.7 881.3L2131.9 880.8L2133.1 879.4L2134.4 876.2L2135.6 870.8L2137.5 854.9L2139.5 830.5L2141.2 803.6L2142.9 784.0L2144.4 777.9L2145.9 784.0L2147.8 808.5L2149.0 825.7L2150.3 842.7L2151.5 858.7L2152.7 872.1L2154.2 883.4L2155.6 891.6L2157.5 898.7L2159.3 903.8L2160.9 907.4L2162.6 910.2L2164.2 912.4L2165.7 914.0L2167.3 915.4L2168.8 916.5L2170.3 917.3L2171.8 917.9L2173.4 918.5L2174.9 918.9L2176.4 919.0L2178.1 918.6L2179.7 917.7L2181.3 916.6L2182.9 915.0L2184.6 913.3L2186.2 912.4L2188.0 913.0L2189.9 914.1L2191.5 915.8L2193.1 918.0L2194.8 919.7L2196.2 920.7L2197.7 921.6L2199.2 922.4L2200.6 923.0L2202.1 923.4L2203.6 923.8L2205.2 924.1L2206.7 924.4L2208.2 924.7L2209.7 924.9L2211.3 925.1L2212.8 925.2L2214.3 925.4L2215.9 925.5L2217.4 925.6L2218.9 925.7L2220.4 925.7L2222.0 925.8L2223.5 925.9L2225.0 926.0L2226.6 926.0L2228.1 926.1L2229.6 926.1L2231.1 926.2L2232.7 926.2L2234.2 926.3L2235.7 926.3L2237.3 926.3L2238.8 926.3L2240.3 926.4L2241.8 926.4L2243.3 926.4L2244.8 926.4L2246.3 926.4L2247.8 926.4L2249.3 926.5L2250.8 926.5L2252.3 926.5L2253.8 926.5L2255.3 926.5L2256.8 926.5L2258.3 926.5L2259.9 926.5L2261.4 926.5L2262.9 926.5L2264.4 926.6L2265.9 926.6L2267.4 926.6L2268.9 926.6L2270.4 926.6L2271.9 926.6L2273.4 926.6L2274.9 926.6L2276.4 926.6L2277.9 926.6L2279.4 926.6L2280.9 926.6L2282.4 926.6L2283.9 926.6L2285.4 926.6L2286.9 926.6L2288.4 926.6L2290.0 926.6L2291.5 926.6L2293.0 926.6L2294.5 926.6L2296.0 926.6L2297.5 926.6L2299.0 926.6L2300.5 926.6L2302.0 926.6L2303.5 926.6L2305.0 926.6L2306.5 926.6L2308.0 926.6L2309.5 926.6L2311.0 926.6L2312.5 926.6L2314.0 926.6L2315.5 926.6L2317.0 926.6" fill="none" stroke="#000" stroke-width="2.9" stroke-linejoin="round"/>
<path d="M150.7 1538.2L152.3 1538.5L153.8 1538.9L155.3 1539.3L156.9 1539.8L158.4 1540.2L159.9 1540.5L161.5 1540.8L163.0 1541.0L164.5 1541.1L166.1 1541.0L167.7 1541.0L169.3 1540.9L170.9 1540.7L172.5 1540.6L174.1 1540.4L175.7 1540.2L177.3 1540.0L178.9 1539.7L180.4 1539.3L182.0 1538.8L183.6 1538.3L185.2 1537.9L186.8 1537.5L188.4 1537.2L190.0 1537.1L191.4 1537.1L192.9 1537.2L194.3 1537.2L195.8 1537.4L197.3 1537.5L198.7 1537.6L200.2 1537.8L201.6 1537.9L203.1 1538.0L204.5 1538.2L206.0 1538.3L207.4 1538.4L208.9 1538.5L210.3 1538.6L211.8 1538.7L213.3 1538.8L214.7 1538.9L216.2 1539.0L217.6 1539.1L219.1 1539.3L220.5 1539.4L222.0 1539.6L223.4 1539.8L224.9 1539.9L226.3 1540.1L227.8 1540.3L229.2 1540.5L230.7 1540.6L232.2 1540.7L233.6 1540.7L235.1 1540.7L236.5 1540.6L238.0 1540.5L239.4 1540.4L240.9 1540.2L242.3 1540.0L243.8 1539.8L245.2 1539.6L246.7 1539.4L248.1 1539.3L249.7 1539.1L251.3 1538.9L252.9 1538.7L254.5 1538.5L256.1 1538.3L257.7 1538.0L259.3 1537.8L260.9 1537.4L262.4 1537.1L264.0 1536.6L265.5 1536.0L267.1 1535.4L268.7 1534.6L270.2 1533.7L271.8 1532.7L273.2 1531.2L274.7 1529.0L276.1 1526.5L277.6 1524.3L279.0 1522.9L280.5 1522.0L282.0 1521.2L283.4 1520.6L284.9 1520.1L286.3 1520.0L287.8 1520.0L289.3 1520.1L290.9 1520.2L292.4 1520.4L293.9 1520.5L295.4 1520.7L297.0 1521.0L298.5 1521.3L300.1 1521.7L301.6 1522.2L303.2 1522.7L304.8 1523.1L306.3 1523.6L307.9 1524.1L309.4 1524.6L311.0 1525.1L312.5 1525.6L314.1 1526.1L315.7 1526.7L317.2 1527.3L318.7 1527.9L320.1 1528.5L321.6 1529.3L323.0 1530.1L324.5 1530.8L325.9 1531.6L327.4 1532.3L328.8 1532.9L330.3 1533.4L331.8 1533.8L333.3 1534.1L334.9 1534.5L336.5 1534.8L338.1 1535.1L339.7 1535.3L341.3 1535.5L342.9 1535.6L344.5 1535.6L346.0 1535.5L347.5 1535.2L349.0 1534.7L350.5 1534.2L352.1 1533.8L353.6 1533.4L355.0 1533.2L356.5 1532.9L357.9 1532.6L359.4 1532.4L360.8 1532.3L362.3 1532.5L363.7 1532.9L365.2 1533.4L366.7 1534.0L368.1 1534.5L369.7 1535.1L371.2 1535.8L372.8 1536.6L374.3 1537.3L375.9 1538.0L377.5 1538.5L379.0 1538.9L380.5 1539.2L382.0 1539.4L383.6 1539.6L385.1 1539.8L386.6 1539.9L388.1 1540.0L389.7 1539.7L391.2 1539.1L392.8 1538.3L394.3 1537.3L395.9 1536.5L397.5 1535.9L399.0 1535.6L400.5 1535.7L402.0 1536.0L403.6 1536.3L405.1 1536.7L406.6 1537.1L408.1 1537.4L409.6 1537.7L411.1 1538.1L412.6 1538.4L414.2 1538.6L415.7 1538.8L417.2 1538.9L418.7 1538.6L420.3 1537.9L421.9 1536.9L423.4 1535.8L425.0 1534.8L426.5 1534.1L428.1 1533.8L429.6 1533.8L431.1 1533.8L432.6 1533.8L434.0 1533.9L435.5 1533.9L437.0 1533.9L438.5 1534.0L440.0 1534.0L441.5 1534.1L443.0 1534.1L444.4 1534.2L445.9 1534.3L447.4 1534.5L448.8 1534.9L450.3 1535.3L451.7 1535.7L453.2 1536.1L454.6 1536.6L456.1 1536.9L457.5 1537.2L459.0 1537.4L460.5 1537.6L462.0 1537.7L463.5 1537.9L465.0 1538.0L466.6 1538.1L468.1 1538.2L469.6 1538.3L471.1 1538.4L472.6 1538.4L474.1 1538.5L475.6 1538.5L477.2 1538.5L478.6 1538.5L480.1 1538.3L481.5 1538.1L483.0 1537.8L484.4 1537.4L485.9 1537.0L487.3 1536.6L488.8 1536.3L490.3 1535.9L491.7 1535.6L493.3 1535.4L494.9 1535.1L496.5 1534.9L498.1 1534.7L499.7 1534.5L501.2 1534.2L502.8 1533.9L504.4 1533.4L505.9 1532.7L507.3 1531.5L508.8 1530.1L510.2 1528.9L511.7 1528.0L513.2 1527.4L514.6 1526.8L516.1 1526.3L517.5 1525.9L519.0 1525.8L520.3 1526.3L521.7 1527.6L523.1 1529.3L524.4 1530.9L525.8 1532.5L527.1 1534.3L528.5 1536.0L529.9 1537.1L531.4 1537.8L533.0 1538.5L534.5 1539.0L536.1 1539.5L537.7 1539.9L539.2 1540.2L540.8 1540.3L542.3 1540.5L543.8 1540.6L545.2 1540.6L546.7 1540.7L548.2 1540.8L549.7 1540.8L551.2 1540.9L552.7 1540.9L554.2 1541.0L555.7 1541.0L557.1 1541.1L558.6 1541.1L560.0 1541.2L561.5 1541.3L563.0 1541.3L564.4 1541.4L565.9 1541.4L567.3 1541.5L568.8 1541.6L570.2 1541.6L571.7 1541.7L573.1 1541.7L574.6 1541.7L576.0 1541.8L577.5 1541.8L578.9 1541.8L580.4 1541.8L581.9 1541.8L583.3 1541.8L584.8 1541.8L586.2 1541.8L587.7 1541.8L589.1 1541.8L590.6 1541.8L592.0 1541.8L593.5 1541.8L594.9 1541.8L596.4 1541.8L597.9 1541.8L599.3 1541.8L600.8 1541.8L602.3 1541.7L603.8 1541.6L605.3 1541.4L606.8 1541.1L608.3 1540.8L609.8 1540.4L611.4 1540.0L612.9 1539.6L614.4 1539.2L615.9 1538.9L617.4 1538.5L618.9 1538.2L620.4 1537.9L621.8 1537.6L623.3 1537.4L624.8 1537.1L626.2 1536.8L627.7 1536.6L629.1 1536.3L630.6 1536.0L632.0 1535.6L633.5 1535.3L635.1 1534.7L636.7 1534.0L638.2 1533.2L639.8 1532.3L641.4 1531.5L643.0 1530.7L644.6 1530.1L646.2 1529.8L647.7 1529.6L649.1 1529.4L650.6 1529.3L652.0 1529.1L653.5 1529.0L654.9 1528.9L656.4 1528.8L657.8 1528.8L659.3 1528.7L660.7 1528.7L662.3 1528.9L663.8 1529.4L665.3 1530.1L666.8 1531.0L668.3 1531.9L669.8 1532.7L671.4 1533.6L672.9 1534.7L674.5 1535.8L676.1 1536.9L677.6 1538.0L679.2 1538.9L680.7 1539.6L682.2 1540.2L683.8 1540.8L685.3 1541.3L686.8 1541.8L688.3 1542.1L689.8 1542.2L691.3 1542.1L692.7 1541.9L694.2 1541.7L695.6 1541.5L697.1 1541.3L698.5 1541.1L700.0 1541.1L701.5 1541.1L702.9 1541.1L704.4 1541.1L705.8 1541.1L707.3 1541.1L708.7 1541.1L710.2 1541.1L711.6 1541.1L713.1 1541.1L714.5 1541.1L716.0 1541.1L717.4 1541.1L718.9 1541.1L720.4 1541.1L721.8 1541.1L723.3 1541.1L724.8 1541.1L726.4 1541.1L727.9 1541.1L729.4 1541.1L730.9 1541.1L732.4 1541.1L733.9 1541.1L735.4 1541.1L737.0 1541.1L738.5 1541.1L740.0 1541.1L741.4 1541.0L742.9 1540.6L744.3 1540.2L745.8 1539.6L747.3 1538.9L748.7 1538.2L750.2 1537.6L751.6 1536.9L753.1 1536.4L754.5 1536.0L756.0 1535.6L757.6 1535.3L759.1 1535.0L760.6 1534.6L762.1 1534.3L763.6 1534.0L765.1 1533.8L766.6 1533.5L768.2 1533.3L769.7 1533.2L771.2 1533.1L772.7 1533.1L774.2 1533.1L775.6 1533.1L777.1 1533.2L778.5 1533.4L780.0 1533.5L781.4 1533.7L782.9 1533.9L784.3 1534.1L785.8 1534.3L787.2 1534.5L788.8 1535.0L790.4 1535.7L792.0 1536.6L793.6 1537.5L795.2 1538.4L796.8 1539.2L798.4 1539.8L800.0 1540.0L801.6 1540.0L803.1 1540.0L804.7 1540.0L806.3 1540.0L807.9 1540.0L809.5 1540.0L811.1 1540.0L812.7 1540.0L814.2 1539.8L815.8 1539.4L817.4 1538.8L818.9 1538.2L820.5 1537.6L822.0 1537.0L823.6 1536.7L825.2 1536.5L826.8 1536.3L828.4 1536.1L830.0 1535.9L831.5 1535.8L833.1 1535.7L834.7 1535.6L836.3 1535.6L837.9 1535.8L839.5 1536.1L841.1 1536.7L842.7 1537.3L844.3 1537.9L845.9 1538.4L847.5 1538.7L849.0 1538.9L850.6 1538.9L852.1 1538.9L853.6 1538.9L855.1 1538.9L856.6 1538.9L858.1 1538.9L859.6 1538.9L861.2 1538.9L862.7 1538.9L864.2 1538.9L865.7 1538.9L867.2 1538.9L868.7 1538.9L870.1 1539.0L871.6 1539.2L873.0 1539.4L874.5 1539.6L875.9 1539.8L877.4 1540.0L878.8 1540.2L880.3 1540.3L881.8 1540.3L883.2 1540.3L884.7 1540.0L886.1 1539.6L887.6 1539.2L889.0 1538.7L890.5 1538.1L891.9 1537.6L893.4 1537.1L894.8 1536.7L896.3 1536.3L897.8 1536.1L899.3 1535.9L900.8 1535.7L902.4 1535.5L903.9 1535.3L905.4 1535.1L906.9 1535.0L908.4 1534.8L909.9 1534.6L911.4 1534.5L913.0 1534.3L914.5 1534.2L916.0 1534.0L917.5 1533.8L919.0 1533.6L920.5 1533.4L922.0 1533.2L923.6 1533.0L925.1 1532.8L926.6 1532.7L928.1 1532.5L929.6 1532.4L931.1 1532.4L932.7 1532.3L934.1 1532.4L935.6 1532.6L937.0 1532.9L938.5 1533.3L939.9 1533.7L941.4 1534.2L942.8 1534.6L944.3 1535.0L945.7 1535.4L947.2 1535.6L948.7 1535.8L950.2 1536.0L951.7 1536.1L953.2 1536.3L954.8 1536.4L956.3 1536.5L957.8 1536.6L959.3 1536.7L960.8 1536.9L962.3 1537.0L963.9 1537.2L965.4 1537.4L966.9 1537.8L968.5 1538.4L970.0 1539.0L971.6 1539.7L973.2 1540.3L974.7 1540.8L976.3 1541.1L977.8 1541.2L979.3 1541.3L980.8 1541.4L982.3 1541.5L983.8 1541.6L985.3 1541.7L986.8 1541.8L988.2 1541.9L989.7 1541.9L991.2 1542.0L992.7 1542.0L994.2 1542.1L995.7 1542.1L997.2 1542.1L998.7 1542.1L1000.2 1542.2L1001.7 1542.2L1003.2 1542.2L1004.7 1542.2L1006.2 1542.1L1007.7 1542.1L1009.2 1542.1L1010.7 1542.1L1012.2 1542.1L1013.7 1542.1L1015.2 1542.0L1016.7 1542.0L1018.2 1542.0L1019.7 1542.0L1021.2 1541.9L1022.7 1541.9L1024.2 1541.9L1025.7 1541.8L1027.2 1541.8L1028.6 1541.8L1030.1 1541.7L1031.5 1541.7L1033.0 1541.6L1034.4 1541.6L1035.9 1541.5L1037.3 1541.5L1038.8 1541.4L1040.3 1541.3L1041.7 1541.2L1043.2 1541.1L1044.6 1541.0L1046.1 1540.9L1047.5 1540.8L1049.0 1540.7L1050.4 1540.6L1051.9 1540.4L1053.3 1540.1L1054.8 1539.9L1056.2 1539.6L1057.7 1539.2L1059.2 1538.8L1060.6 1538.4L1062.1 1537.9L1063.5 1537.4L1065.1 1536.7L1066.6 1535.7L1068.2 1534.5L1069.7 1533.1L1071.3 1531.7L1072.9 1530.3L1074.4 1529.1L1075.9 1527.8L1077.3 1526.4L1078.8 1525.0L1080.2 1523.6L1081.7 1522.5L1083.1 1521.7L1084.6 1521.4L1086.2 1521.9L1087.8 1523.1L1089.4 1524.8L1091.0 1526.5L1092.6 1528.0L1094.1 1529.2L1095.5 1530.6L1097.0 1531.9L1098.4 1532.9L1099.9 1533.4L1101.4 1533.6L1103.0 1533.8L1104.5 1533.9L1106.1 1534.0L1107.7 1534.1L1109.2 1534.1L1110.8 1534.2L1112.3 1534.1L1113.9 1534.0L1115.4 1533.9L1117.0 1533.7L1118.6 1533.6L1120.1 1533.5L1121.7 1533.4L1123.2 1533.5L1124.8 1533.8L1126.4 1534.2L1127.9 1534.6L1129.5 1535.0L1131.0 1535.4L1132.6 1535.6L1134.0 1535.8L1135.5 1536.0L1136.9 1536.1L1138.4 1536.3L1139.9 1536.4L1141.3 1536.5L1142.8 1536.7L1144.2 1536.8L1145.7 1536.9L1147.1 1537.0L1148.6 1537.1L1150.0 1537.2L1151.5 1537.3L1152.9 1537.4L1154.4 1537.4L1155.9 1537.5L1157.4 1537.6L1158.9 1537.7L1160.5 1537.8L1162.0 1537.8L1163.5 1537.9L1165.0 1538.0L1166.5 1538.0L1168.0 1538.1L1169.5 1538.1L1171.1 1538.2L1172.6 1538.2L1174.0 1538.2L1175.5 1538.1L1176.9 1538.1L1178.4 1538.0L1179.8 1538.0L1181.3 1537.9L1182.7 1537.8L1184.2 1537.7L1185.7 1537.6L1187.1 1537.4L1188.7 1537.1L1190.3 1536.6L1191.9 1535.8L1193.5 1534.9L1195.1 1533.8L1196.7 1532.0L1198.4 1529.5L1200.0 1526.7L1201.7 1524.3L1203.2 1522.4L1204.7 1520.3L1206.3 1518.8L1207.8 1518.2L1209.2 1518.8L1210.6 1520.4L1211.9 1522.4L1213.3 1524.3L1214.9 1526.7L1216.6 1529.5L1218.2 1532.0L1219.8 1533.8L1221.3 1534.9L1222.7 1535.8L1224.2 1536.6L1225.6 1537.3L1227.1 1537.8L1228.5 1538.3L1230.0 1538.6L1231.5 1538.5L1232.9 1538.4L1234.4 1538.2L1235.9 1537.9L1237.3 1537.6L1238.8 1537.3L1240.3 1537.0L1241.8 1536.7L1243.2 1536.4L1244.7 1536.2L1246.2 1536.0L1247.6 1535.8L1249.1 1535.6L1250.6 1535.3L1252.0 1535.1L1253.5 1534.9L1255.0 1534.6L1256.4 1534.3L1257.9 1534.0L1259.5 1533.7L1261.0 1533.4L1262.5 1533.1L1264.0 1532.7L1265.5 1532.2L1267.0 1531.7L1268.6 1530.9L1270.2 1529.8L1271.8 1528.6L1273.4 1527.2L1274.9 1525.9L1276.5 1524.5L1278.1 1523.0L1279.7 1521.5L1281.3 1519.8L1282.9 1517.9L1284.2 1516.3L1285.5 1514.5L1286.8 1512.4L1288.2 1510.0L1289.7 1506.3L1291.3 1501.5L1292.9 1495.5L1294.5 1486.6L1296.1 1475.6L1297.7 1463.9L1299.3 1451.8L1301.0 1439.8L1302.7 1428.1L1304.4 1415.9L1306.1 1404.3L1307.5 1395.4L1308.8 1388.4L1310.9 1383.1L1313.0 1382.0L1315.1 1383.6L1317.2 1391.0L1318.6 1398.1L1319.9 1406.9L1321.2 1416.8L1322.5 1428.1L1323.9 1441.1L1325.2 1454.5L1326.5 1467.0L1327.8 1478.3L1329.1 1487.6L1330.5 1495.5L1332.0 1503.6L1333.6 1510.0L1335.0 1514.3L1336.5 1517.8L1337.9 1520.6L1339.4 1523.0L1340.9 1525.0L1342.4 1526.4L1344.0 1527.3L1345.7 1528.1L1347.3 1528.7L1349.0 1529.0L1350.6 1529.3L1352.3 1529.5L1353.9 1529.6L1355.6 1529.8L1356.9 1530.2L1358.2 1530.6L1359.5 1531.0L1360.9 1531.2L1362.5 1530.9L1364.2 1530.3L1365.8 1529.6L1367.5 1529.0L1369.1 1528.8L1370.8 1528.5L1372.4 1528.3L1374.1 1528.0L1375.7 1527.5L1377.4 1526.7L1379.0 1525.7L1380.7 1524.5L1382.0 1523.3L1383.3 1521.8L1384.7 1519.9L1386.0 1517.9L1387.3 1515.7L1388.6 1513.1L1389.9 1510.0L1391.4 1505.6L1392.9 1500.3L1394.4 1494.1L1396.2 1485.7L1397.9 1475.6L1399.5 1464.5L1401.1 1451.8L1402.5 1439.3L1404.0 1425.4L1405.3 1411.0L1406.6 1396.3L1407.9 1382.4L1409.2 1369.9L1410.6 1359.4L1411.9 1351.4L1414.0 1344.0L1415.6 1342.4L1417.7 1346.1L1419.0 1351.3L1420.4 1359.3L1421.7 1371.3L1423.0 1385.8L1424.3 1400.1L1425.6 1414.8L1427.0 1429.5L1428.3 1443.9L1429.6 1458.4L1430.9 1470.4L1432.2 1477.7L1433.6 1483.6L1434.9 1489.1L1436.2 1494.1L1437.8 1500.3L1439.4 1504.7L1441.1 1506.9L1442.8 1507.9L1444.5 1507.9L1446.1 1507.9L1447.8 1507.9L1449.4 1507.9L1450.8 1506.6L1452.1 1504.1L1453.4 1502.1L1454.7 1501.0L1456.0 1500.1L1457.4 1499.3L1458.7 1498.9L1460.3 1498.6L1462.0 1498.3L1463.6 1498.2L1465.3 1498.1L1466.6 1498.2L1467.9 1498.5L1469.3 1498.9L1470.6 1499.8L1471.9 1501.0L1473.2 1501.5L1474.5 1501.5L1475.9 1501.2L1477.2 1500.8L1478.5 1498.4L1479.8 1495.5L1481.2 1494.1L1482.5 1493.0L1483.8 1492.0L1485.9 1490.7L1487.4 1491.7L1488.9 1494.1L1490.4 1496.8L1491.7 1499.3L1493.1 1502.1L1494.4 1504.7L1495.7 1507.0L1497.0 1509.2L1498.3 1511.3L1499.7 1513.9L1501.0 1516.4L1502.3 1517.9L1503.6 1518.5L1505.0 1518.9L1506.3 1519.2L1507.6 1519.3L1509.2 1519.2L1510.8 1519.2L1512.4 1519.0L1513.9 1518.9L1515.5 1518.7L1516.8 1518.4L1518.2 1517.9L1519.5 1517.4L1520.8 1517.1L1522.4 1517.2L1523.9 1517.2L1525.4 1517.2L1527.0 1517.3L1528.5 1517.3L1530.1 1517.4L1531.4 1518.3L1532.7 1519.8L1534.0 1520.6L1535.4 1520.5L1536.7 1520.2L1538.0 1519.9L1539.3 1519.8L1540.6 1520.2L1542.0 1521.0L1543.3 1522.0L1544.6 1522.7L1546.2 1523.2L1547.8 1523.6L1549.4 1524.0L1551.0 1524.3L1552.5 1524.5L1554.0 1524.7L1555.6 1524.9L1557.1 1525.0L1558.6 1525.2L1560.1 1525.3L1561.6 1525.3L1563.1 1525.3L1564.6 1525.3L1566.1 1525.3L1567.6 1525.3L1569.2 1525.3L1570.7 1525.3L1572.2 1525.3L1573.7 1525.3L1575.2 1525.2L1576.7 1525.0L1578.2 1524.6L1579.7 1524.2L1581.2 1523.8L1582.8 1523.4L1584.3 1523.2L1585.8 1523.1L1587.3 1523.0L1588.8 1522.9L1590.3 1522.8L1591.8 1522.8L1593.3 1522.7L1594.8 1522.7L1596.2 1523.1L1597.5 1524.0L1598.8 1524.9L1600.1 1525.3L1601.4 1525.0L1602.8 1524.3L1604.1 1523.6L1605.4 1523.2L1607.0 1523.2L1608.6 1523.2L1610.2 1523.2L1611.8 1523.2L1613.3 1523.2L1615.0 1522.7L1616.7 1521.5L1618.3 1520.3L1620.0 1519.7L1621.5 1519.8L1623.0 1520.0L1624.5 1520.2L1626.0 1520.5L1627.6 1520.8L1629.1 1521.0L1630.6 1521.0L1632.1 1520.9L1633.7 1520.6L1635.2 1520.1L1636.7 1519.4L1638.3 1518.7L1639.8 1517.9L1641.5 1516.6L1643.1 1514.6L1644.8 1512.5L1646.4 1510.5L1648.1 1508.3L1649.7 1506.0L1651.4 1504.1L1653.0 1503.1L1654.5 1502.8L1656.0 1502.6L1657.5 1502.5L1659.1 1503.5L1660.7 1505.7L1662.3 1507.8L1663.6 1509.3L1664.9 1510.8L1666.3 1512.3L1667.6 1513.6L1669.2 1515.3L1670.9 1516.9L1672.5 1518.2L1674.2 1518.9L1675.7 1519.3L1677.2 1519.5L1678.7 1519.8L1680.2 1520.0L1681.8 1520.1L1683.3 1520.2L1684.8 1520.3L1686.3 1520.2L1687.7 1520.1L1689.2 1520.0L1690.7 1519.8L1692.2 1519.6L1693.7 1519.4L1695.2 1519.1L1696.7 1518.9L1698.2 1518.7L1699.7 1518.5L1701.2 1518.2L1702.7 1517.9L1704.2 1517.6L1705.7 1517.3L1707.2 1517.1L1708.6 1516.9L1709.9 1516.7L1711.2 1516.5L1712.5 1516.3L1714.2 1515.5L1715.8 1514.3L1717.5 1513.0L1719.1 1511.8L1720.7 1511.0L1722.3 1510.3L1723.9 1509.7L1725.5 1508.9L1727.1 1507.8L1728.7 1505.7L1730.4 1502.5L1732.0 1499.4L1733.7 1497.3L1735.3 1496.2L1736.9 1495.5L1738.4 1494.9L1740.0 1494.2L1741.6 1493.3L1743.3 1491.9L1744.9 1490.2L1746.6 1488.4L1748.2 1486.7L1749.8 1485.2L1751.4 1483.8L1753.0 1482.3L1754.6 1480.7L1756.2 1478.7L1757.5 1476.7L1758.8 1474.2L1760.1 1471.4L1761.4 1468.2L1762.8 1464.5L1764.1 1460.2L1765.4 1455.0L1766.7 1447.8L1768.1 1439.1L1769.4 1429.2L1770.7 1417.9L1772.0 1405.1L1773.3 1391.5L1774.7 1378.1L1776.0 1365.1L1777.3 1352.7L1778.6 1341.3L1780.7 1325.4L1782.9 1321.4L1784.4 1320.6L1786.6 1330.7L1787.9 1341.4L1789.2 1354.5L1790.5 1368.8L1791.8 1383.6L1793.2 1397.2L1794.5 1410.0L1796.1 1424.0L1797.7 1436.4L1799.4 1448.0L1801.1 1457.6L1802.4 1463.7L1803.7 1469.0L1805.1 1473.5L1806.4 1477.1L1807.7 1480.3L1809.0 1482.7L1810.5 1485.1L1812.0 1487.2L1813.5 1488.0L1815.1 1487.4L1816.7 1485.9L1818.3 1484.0L1819.6 1481.7L1820.9 1478.5L1822.2 1474.8L1824.0 1469.6L1825.7 1462.9L1827.3 1453.5L1828.9 1441.7L1830.2 1430.8L1831.5 1417.9L1832.8 1402.0L1834.1 1383.6L1836.3 1349.2L1838.4 1312.2L1840.5 1275.2L1842.6 1243.5L1844.7 1219.7L1846.8 1207.8L1848.9 1205.6L1850.5 1205.6L1852.7 1217.0L1854.0 1227.7L1855.3 1240.8L1856.6 1255.9L1857.9 1272.5L1859.3 1289.5L1860.6 1306.9L1861.9 1324.1L1863.2 1341.3L1864.5 1358.8L1865.9 1375.6L1867.2 1391.1L1868.5 1404.7L1869.8 1416.1L1871.2 1425.9L1872.5 1434.6L1873.8 1441.7L1875.1 1446.7L1876.4 1450.8L1877.8 1455.0L1879.1 1459.5L1880.4 1464.0L1881.7 1468.2L1883.1 1472.2L1884.4 1475.9L1885.7 1478.7L1887.4 1481.4L1889.1 1482.7L1890.6 1482.6L1892.0 1482.2L1893.5 1481.6L1895.0 1480.9L1896.3 1478.7L1897.6 1475.1L1898.9 1472.1L1900.4 1470.4L1901.9 1469.0L1903.4 1466.8L1905.0 1460.2L1906.8 1459.8L1908.7 1459.7L1910.0 1462.6L1911.3 1466.8L1913.1 1469.7L1914.8 1472.1L1916.1 1474.6L1917.4 1477.1L1918.7 1478.2L1920.1 1478.0L1921.4 1477.4L1922.7 1476.6L1924.0 1475.1L1925.4 1472.8L1926.7 1470.8L1928.3 1468.8L1929.8 1467.1L1931.4 1466.3L1933.3 1466.7L1935.1 1467.6L1936.7 1469.1L1938.3 1471.1L1939.9 1472.9L1941.5 1474.5L1943.1 1476.0L1944.7 1476.6L1946.2 1476.3L1947.6 1475.6L1949.1 1474.8L1950.8 1473.8L1952.5 1472.7L1954.1 1471.5L1955.8 1470.3L1957.3 1469.1L1958.9 1467.7L1960.5 1466.3L1962.1 1465.4L1963.7 1465.0L1965.3 1465.0L1967.0 1465.0L1968.6 1465.0L1970.3 1465.0L1971.6 1465.8L1972.9 1467.6L1974.3 1470.0L1975.6 1472.1L1976.9 1474.1L1978.2 1476.1L1979.6 1478.1L1980.9 1480.1L1982.2 1482.0L1983.5 1484.0L1984.8 1485.8L1986.2 1487.2L1987.4 1488.2L1988.7 1488.9L1990.0 1489.6L1991.5 1490.2L1993.0 1490.7L1994.5 1490.9L1995.9 1490.8L1997.3 1490.6L1998.7 1490.4L2000.1 1490.0L2001.5 1489.1L2002.9 1487.7L2004.3 1486.0L2005.7 1484.6L2007.1 1483.6L2008.5 1482.7L2009.9 1481.9L2011.3 1481.0L2012.6 1479.9L2013.9 1478.8L2015.2 1478.3L2016.9 1478.4L2018.6 1478.6L2020.3 1478.8L2022.1 1478.8L2023.8 1478.8L2025.5 1478.8L2027.0 1478.1L2028.5 1476.6L2030.0 1474.9L2031.6 1473.6L2033.1 1471.6L2034.9 1464.8L2036.6 1463.7L2038.3 1462.6L2039.8 1458.6L2041.2 1452.5L2042.6 1446.4L2043.9 1440.1L2045.3 1434.7L2046.6 1428.9L2048.9 1415.4L2050.3 1409.3L2051.8 1404.2L2053.3 1399.2L2054.7 1395.2L2056.1 1392.3L2057.4 1390.7L2059.1 1390.2L2060.8 1390.0L2062.5 1390.3L2064.2 1391.1L2066.4 1397.4L2068.7 1407.5L2070.9 1419.9L2072.2 1425.9L2073.6 1431.1L2075.1 1437.2L2076.5 1440.6L2078.2 1440.4L2079.9 1440.1L2081.6 1439.8L2083.3 1439.7L2085.0 1439.8L2086.7 1440.4L2088.4 1441.2L2089.8 1444.3L2091.1 1449.1L2092.5 1453.1L2093.8 1458.1L2095.6 1470.4L2097.3 1476.0L2099.0 1480.6L2100.7 1487.1L2102.4 1492.2L2103.9 1494.0L2105.4 1495.1L2106.9 1496.3L2108.3 1497.8L2109.7 1499.4L2111.1 1500.7L2112.5 1501.2L2114.0 1501.1L2115.6 1500.7L2117.2 1500.2L2118.8 1499.8L2120.3 1499.7L2121.8 1499.7L2123.3 1499.8L2124.8 1499.9L2126.3 1500.0L2127.8 1500.1L2129.3 1500.1L2131.0 1499.8L2132.7 1499.2L2134.4 1498.5L2136.1 1498.1L2137.6 1497.9L2139.2 1497.7L2140.8 1497.6L2142.4 1497.5L2143.9 1497.4L2145.4 1499.8L2146.9 1502.6L2148.3 1503.2L2149.7 1503.5L2151.2 1503.7L2152.6 1504.1L2154.0 1504.8L2155.2 1508.7L2156.6 1509.4L2158.0 1509.9L2159.4 1510.2L2160.8 1510.4L2162.4 1510.8L2163.9 1511.0L2165.5 1511.3L2167.1 1511.6L2168.7 1512.0L2170.1 1512.9L2171.5 1514.1L2172.9 1515.4L2174.3 1516.1L2175.8 1516.3L2177.4 1516.5L2179.0 1516.6L2180.6 1516.7L2182.1 1517.0L2183.5 1517.7L2184.9 1518.9L2186.3 1520.1L2187.8 1520.6L2189.4 1520.2L2191.1 1519.9L2192.8 1520.3L2194.5 1521.2L2196.2 1522.1L2197.9 1522.8L2199.4 1523.1L2201.0 1523.5L2202.6 1523.7L2204.2 1523.9L2205.7 1523.9L2207.4 1523.8L2209.1 1523.6L2210.8 1523.4L2212.5 1523.3L2214.0 1524.0L2215.5 1525.3L2217.0 1526.0L2218.7 1525.6L2220.3 1524.9L2222.0 1524.2L2223.7 1523.9L2225.2 1524.0L2226.7 1524.3L2228.2 1524.6L2229.7 1525.0L2231.2 1525.3L2232.7 1525.5L2234.3 1525.6L2235.9 1525.7L2237.5 1525.7L2239.1 1525.8L2240.7 1525.8L2242.3 1525.9L2243.9 1526.0L2245.5 1526.2L2247.1 1526.5L2248.7 1526.9L2250.4 1527.4L2252.0 1527.8L2253.6 1528.1L2255.2 1528.2L2256.7 1528.1L2258.2 1528.0L2259.7 1527.8L2261.2 1527.5L2262.7 1527.4L2264.2 1527.3L2265.8 1527.7L2267.5 1528.6L2269.2 1529.5L2270.9 1530.0L2272.5 1530.1L2274.1 1530.2L2275.7 1530.3L2277.3 1530.4L2278.9 1530.4L2280.5 1530.4L2282.1 1530.4L2283.8 1530.3L2285.5 1530.0L2287.2 1529.7L2288.9 1529.6L2290.5 1529.6L2292.1 1529.8L2293.7 1530.0L2295.3 1530.3L2296.9 1530.6L2298.5 1530.9L2300.1 1531.1L2301.6 1531.3L2303.1 1531.6L2304.6 1531.8L2306.1 1532.0L2307.6 1532.2L2309.1 1532.2L2310.7 1532.2L2312.2 1532.1L2313.8 1532.0L2315.4 1531.9L2317.0 1531.8" fill="none" stroke="#000" stroke-width="3.0" stroke-linejoin="round"/>
<rect x="151.5" y="34.5" width="2169" height="1605" fill="none" stroke="#000" stroke-width="7"/>
<path d="M301.09 1640V1672M600.26 1640V1672M899.43 1640V1672M1198.60 1640V1672M1497.78 1640V1672M1796.95 1640V1672M2096.12 1640V1672" stroke="#000" stroke-width="7" fill="none"/>
<text transform="translate(247.86,1744.20) scale(1,1.05)" font-size="64.40">400</text>
<text transform="translate(547.03,1744.20) scale(1,1.05)" font-size="64.40">600</text>
<text transform="translate(846.21,1744.20) scale(1,1.05)" font-size="64.40">800</text>
<text transform="translate(1127.47,1744.20) scale(1,1.05)" font-size="64.40" dx="2.14 -2.14 0 0" clip-path="url(#c1)">1000</text>
<text transform="translate(1426.64,1744.20) scale(1,1.05)" font-size="64.40" dx="2.14 -2.14 0 0" clip-path="url(#c2)">1200</text>
<text transform="translate(1725.82,1744.20) scale(1,1.05)" font-size="64.40" dx="2.14 -2.14 0 0" clip-path="url(#c3)">1400</text>
<text transform="translate(2024.99,1744.20) scale(1,1.05)" font-size="64.40" dx="2.14 -2.14 0 0" clip-path="url(#c4)">1600</text>
<text transform="translate(825.09,1828.60) scale(1,1.04)" font-size="77.86" font-weight="bold" clip-path="url(#c5)">Raman Shift (cm<tspan font-size="50.61" dy="-36.60" dx="0 1.16">-1</tspan><tspan dy="36.60" dx="-1.16">)</tspan></text>
<text transform="translate(99.90,1070.09) rotate(-90) scale(1,1.025)" font-size="79.05" font-weight="bold" fill="#000">Raman Intensity (a.u.)</text>
<text transform="translate(177.45,178.60) scale(1,1.0)" font-size="99.38" font-weight="bold" fill="#000">(b)</text>
<text transform="translate(175.14,1071.20) scale(1,1.0)" font-size="99.68" font-weight="bold" fill="#000">(a)</text>
<text transform="translate(312.16,1080.60) scale(1,1.045)" font-size="98.44" font-weight="bold" fill="#009900">SERS of PATP at 532 nm</text>
<text transform="translate(309.80,882.93) rotate(-90) scale(1,1.035)" font-size="79.30" fill="#000" dx="0 0 0 0 0 0 0 0 0 0 2.63" clip-path="url(#c6)">390 - PATP1</text>
<text transform="translate(1181.60,841.44) rotate(-90) scale(1,1.035)" font-size="79.30" fill="#000" dx="2.63 -2.63 0 0 0 0 0 0 0 0 0 2.63" clip-path="url(#c7)">1022 - DMAB1</text>
<text transform="translate(1359.30,797.34) rotate(-90) scale(1,1.035)" font-size="79.30" fill="#000" dx="2.63 -2.63 0 0 0 0 0 0 0 0 0 2.63" clip-path="url(#c8)">1094 - PATP1</text>
<text transform="translate(1467.70,650.87) rotate(-90) scale(1,1.035)" font-size="79.30" fill="#000" dx="2.63 0 -2.63 0 0 0 0 0 0 0 0 0" clip-path="url(#c9)">1156 - DMAB2</text>
<text transform="translate(1703.60,664.64) rotate(-90) scale(1,1.035)" font-size="79.30" fill="#000" dx="2.63 -2.63 0 0 0 0 0 0 0 0 0 2.63" clip-path="url(#c10)">1364 - DMAB1</text>
<text transform="translate(1829.30,597.57) rotate(-90) scale(1,1.035)" font-size="79.30" fill="#000" dx="2.63 -2.63 0 0 0 0 0 0 0 0 0 0" clip-path="url(#c11)">1404 - DMAB2</text>
<text transform="translate(2046.32,777.66) rotate(-90) scale(1,1.035)" font-size="66.80" fill="#000" dx="2.22 -2.22 0 0 0 0 0 0 0 0 0 2.22 -2.22 0 0 0 0 0 0 2.22" clip-path="url(#c12)">1620 - DMAB1 / PATP1</text>
<text transform="translate(2175.32,752.86) rotate(-90) scale(1,1.035)" font-size="66.80" fill="#000" dx="2.22 -2.22 0 0 0 0 0 0 0 0 0 0 0 0 0 0 0 0 0 2.22" clip-path="url(#c13)">1632 - DMAB2 / PATP1</text>
<text transform="translate(332.00,1491.17) rotate(-90) scale(1,1.035)" font-size="79.30" fill="#000">390</text>
<text transform="translate(1236.30,1500.56) rotate(-90) scale(1,1.035)" font-size="79.30" fill="#000" dx="2.63 -2.63 0 0" clip-path="url(#c14)">1005</text>
<text transform="translate(1337.50,1354.98) rotate(-90) scale(1,1.035)" font-size="79.30" fill="#000" dx="2.63 -2.63 0 0" clip-path="url(#c15)">1076</text>
<text transform="translate(1449.30,1288.91) rotate(-90) scale(1,1.035)" font-size="79.30" fill="#000" dx="2.63 0 -2.63 0" clip-path="url(#c16)">1144</text>
<text transform="translate(1808.50,1279.59) rotate(-90) scale(1,1.035)" font-size="79.30" fill="#000" dx="2.63 -2.63 0 2.63" clip-path="url(#c17)">1391</text>
<text transform="translate(1878.90,1169.76) rotate(-90) scale(1,1.035)" font-size="79.30" fill="#000" dx="2.63 -2.63 0 0" clip-path="url(#c18)">1435</text>
<text transform="translate(2070.40,1266.36) rotate(-90) scale(1,1.035)" font-size="79.30" fill="#000" dx="2.63 -2.63 0 0" clip-path="url(#c19)">1574</text>
<text transform="translate(2214.20,1321.67) rotate(-90) scale(1,1.035)" font-size="79.30" fill="#000" dx="2.63 -2.63 0 0" clip-path="url(#c20)">1590</text>
<path d="M1170.5 849.0L1226.0 896.7M1675.0 670.0L1741.0 775.0M2041.9 782.6L2115.7 858.2M2055.4 1260.3L2068.6 1357.4M2175.9 1334.0L2098.6 1415.3" stroke="#000" stroke-width="4.8" fill="none"/>
</g>
<g id="bottom">
<path d="M177.3 2775.2L179.1 2772.0L180.9 2769.1L182.4 2767.0L183.8 2765.1L185.3 2764.3L186.8 2765.6L188.4 2768.4L190.0 2770.9L191.4 2772.5L192.7 2774.1L194.1 2775.4L195.4 2776.3L197.0 2777.0L198.5 2777.6L200.0 2778.1L201.5 2778.5L203.0 2778.8L204.5 2778.9L206.0 2778.9L207.5 2778.9L209.0 2779.0L210.5 2779.0L212.0 2779.0L213.5 2779.0L214.9 2779.0L216.4 2779.1L217.9 2779.1L219.4 2779.1L220.9 2779.1L222.4 2779.1L223.9 2779.1L225.4 2779.1L226.8 2779.2L228.3 2779.2L229.8 2779.2L231.3 2779.2L232.8 2779.2L234.3 2779.2L235.8 2779.2L237.3 2779.2L238.7 2779.2L240.2 2779.2L241.7 2779.2L243.2 2779.2L244.7 2779.2L246.2 2779.2L247.7 2779.2L249.1 2779.2L250.6 2779.2L252.1 2779.2L253.6 2779.2L255.1 2779.2L256.7 2779.2L258.2 2779.2L259.7 2779.2L261.3 2779.2L262.8 2779.2L264.3 2779.2L265.9 2779.2L267.4 2779.2L268.9 2779.2L270.4 2779.1L272.0 2779.1L273.5 2779.1L275.0 2779.1L276.6 2779.0L278.1 2779.0L279.6 2779.0L281.2 2778.9L282.7 2778.9L284.2 2778.7L285.7 2778.5L287.2 2778.0L288.7 2777.5L290.3 2777.0L291.8 2776.3L293.2 2775.4L294.7 2774.0L296.1 2772.5L297.6 2771.3L299.0 2770.9L300.4 2771.4L301.8 2772.7L303.1 2774.1L304.5 2775.2L306.0 2776.0L307.4 2776.8L308.9 2777.5L310.3 2778.0L311.8 2778.1L313.3 2778.1L314.9 2778.1L316.4 2778.0L318.0 2777.9L319.6 2777.8L321.1 2777.6L322.7 2777.4L324.2 2777.2L325.7 2776.8L327.2 2776.2L328.7 2775.5L330.3 2774.7L331.8 2773.8L333.3 2772.5L334.9 2770.6L336.4 2768.2L337.9 2765.4L339.5 2761.7L341.1 2756.8L342.7 2750.9L344.5 2740.7L346.3 2730.9L348.1 2724.3L349.9 2721.1L351.8 2724.3L353.6 2730.9L355.4 2740.6L357.2 2750.9L358.7 2757.2L360.1 2762.7L361.6 2766.5L363.2 2769.1L364.8 2771.1L366.5 2772.6L368.1 2773.8L369.6 2774.7L371.1 2775.4L372.7 2776.1L374.2 2776.7L375.7 2777.1L377.2 2777.4L378.7 2777.7L380.1 2777.9L381.6 2778.1L383.0 2778.3L384.5 2778.4L385.9 2778.6L387.4 2778.7L388.8 2778.8L390.3 2778.8L391.7 2778.9L393.3 2778.9L394.8 2778.9L396.3 2778.9L397.8 2779.0L399.3 2779.0L400.8 2779.0L402.3 2779.0L403.9 2779.0L405.4 2779.0L406.9 2779.1L408.4 2779.1L409.9 2779.1L411.4 2779.1L412.9 2779.1L414.5 2779.1L416.0 2779.1L417.5 2779.2L419.0 2779.2L420.5 2779.2L422.0 2779.2L423.6 2779.2L425.1 2779.2L426.6 2779.2L428.1 2779.2L429.6 2779.2L431.1 2779.2L432.6 2779.2L434.2 2779.2L435.7 2779.2L437.2 2779.2L438.7 2779.2L440.2 2779.2L441.7 2779.2L443.2 2779.2L444.8 2779.2L446.3 2779.2L447.8 2779.2L449.3 2779.2L450.8 2779.2L452.3 2779.2L453.8 2779.2L455.3 2779.2L456.8 2779.2L458.2 2779.2L459.7 2779.2L461.2 2779.2L462.7 2779.2L464.2 2779.2L465.7 2779.2L467.2 2779.1L468.7 2779.1L470.2 2779.1L471.7 2779.1L473.2 2779.1L474.7 2779.0L476.2 2779.0L477.7 2779.0L479.2 2779.0L480.7 2778.9L482.2 2778.9L483.7 2778.9L485.2 2778.8L486.7 2778.8L488.2 2778.8L489.7 2778.7L491.2 2778.7L492.7 2778.7L494.2 2778.6L495.7 2778.6L497.2 2778.5L498.7 2778.4L500.3 2778.2L501.8 2778.0L503.4 2777.7L505.0 2777.3L506.5 2776.8L508.1 2776.3L509.5 2775.7L511.0 2774.8L512.4 2773.7L513.9 2772.4L515.3 2770.9L516.7 2768.9L518.1 2766.2L519.4 2763.2L520.8 2760.0L522.6 2754.5L524.4 2750.2L525.7 2748.9L527.0 2748.3L528.4 2750.6L529.9 2754.5L531.7 2759.6L533.5 2764.3L534.9 2767.0L536.2 2769.3L537.6 2771.3L539.0 2772.7L540.5 2773.9L542.0 2774.9L543.5 2775.8L545.0 2776.5L546.5 2777.1L548.1 2777.4L549.5 2777.7L551.0 2777.9L552.4 2778.1L553.9 2778.3L555.3 2778.5L556.8 2778.6L558.2 2778.7L559.7 2778.8L561.1 2778.9L562.6 2778.9L564.1 2778.9L565.5 2778.8L567.0 2778.7L568.4 2778.6L569.9 2778.5L571.3 2778.3L572.8 2778.1L574.2 2777.9L575.7 2777.7L577.1 2777.4L578.7 2777.1L580.2 2776.7L581.7 2776.2L583.2 2775.5L584.7 2774.7L586.2 2773.8L587.6 2772.4L589.0 2770.3L590.3 2767.6L591.7 2764.3L593.1 2759.6L594.6 2753.0L596.0 2745.4L597.5 2735.3L598.9 2725.4L600.2 2719.0L601.5 2715.6L602.9 2719.7L604.4 2727.3L606.2 2738.2L608.0 2749.1L609.6 2756.2L611.2 2762.3L612.8 2766.5L614.3 2769.1L615.9 2771.1L617.4 2772.6L618.9 2773.8L620.5 2774.7L622.1 2775.6L623.6 2776.3L625.2 2777.0L626.7 2777.5L628.3 2777.9L629.8 2778.1L631.4 2778.3L632.9 2778.4L634.5 2778.6L636.0 2778.7L637.5 2778.8L639.1 2778.9L640.6 2779.0L642.2 2779.1L643.7 2779.1L645.2 2779.2L646.8 2779.2L648.3 2779.2L649.8 2779.2L651.4 2779.2L652.9 2779.2L654.4 2779.2L656.0 2779.2L657.5 2779.2L659.0 2779.2L660.6 2779.1L662.1 2779.1L663.6 2779.1L665.1 2779.0L666.7 2779.0L668.2 2778.9L669.7 2778.9L671.3 2778.8L672.8 2778.8L674.3 2778.7L675.9 2778.6L677.4 2778.6L678.9 2778.5L680.4 2778.4L681.8 2778.3L683.3 2778.2L684.7 2778.0L686.2 2777.8L687.6 2777.6L689.1 2777.4L690.6 2777.2L692.0 2776.9L693.5 2776.7L694.8 2776.4L696.2 2776.0L697.6 2775.7L698.9 2775.6L700.3 2775.8L701.6 2776.2L703.0 2776.5L704.4 2776.7L705.9 2776.4L707.5 2775.5L709.1 2774.5L710.6 2773.3L712.2 2771.6L713.7 2769.6L715.3 2767.2L716.8 2764.1L718.4 2760.2L720.0 2756.3L721.4 2752.4L722.9 2750.2L724.5 2753.2L726.2 2758.2L727.7 2762.1L729.3 2766.0L730.9 2769.1L732.3 2771.1L733.6 2772.8L735.0 2774.2L736.4 2775.2L737.9 2776.1L739.5 2776.8L741.0 2777.5L742.6 2778.0L744.1 2778.5L745.7 2778.8L747.3 2778.9L748.8 2778.9L750.3 2778.9L751.7 2779.0L753.2 2779.0L754.7 2779.0L756.2 2779.0L757.7 2779.0L759.2 2779.1L760.7 2779.1L762.2 2779.1L763.7 2779.1L765.2 2779.1L766.7 2779.1L768.2 2779.1L769.7 2779.1L771.2 2779.2L772.7 2779.2L774.2 2779.2L775.7 2779.2L777.2 2779.2L778.7 2779.2L780.2 2779.2L781.7 2779.2L783.2 2779.2L784.7 2779.2L786.2 2779.2L787.7 2779.2L789.2 2779.2L790.7 2779.2L792.2 2779.2L793.7 2779.2L795.2 2779.2L796.7 2779.2L798.1 2779.2L799.7 2779.2L801.3 2778.9L802.8 2778.6L804.4 2778.1L805.9 2777.5L807.5 2777.0L809.1 2776.3L810.4 2775.6L811.8 2774.6L813.1 2773.6L814.5 2772.7L816.0 2771.8L817.4 2770.9L818.9 2770.5L820.4 2771.3L822.0 2773.0L823.6 2774.5L825.0 2775.6L826.3 2776.7L827.7 2777.6L829.0 2778.1L830.6 2778.4L832.2 2778.6L833.8 2778.8L835.4 2779.0L837.0 2779.1L838.6 2779.2L840.2 2779.2L841.8 2779.2L843.3 2779.2L844.7 2779.2L846.2 2779.2L847.7 2779.2L849.2 2779.2L850.7 2779.2L852.2 2779.2L853.7 2779.2L855.2 2779.2L856.6 2779.2L858.1 2779.2L859.6 2779.2L861.1 2779.2L862.6 2779.2L864.1 2779.2L865.6 2779.2L867.1 2779.2L868.5 2779.2L870.0 2779.2L871.5 2779.2L873.0 2779.2L874.5 2779.2L876.0 2779.2L877.5 2779.2L878.9 2779.2L880.4 2779.2L881.9 2779.2L883.4 2779.2L884.9 2779.2L886.4 2779.2L887.9 2779.2L889.4 2779.2L890.8 2779.2L892.3 2779.2L893.8 2779.2L895.3 2779.2L896.8 2779.2L898.3 2779.2L899.8 2779.2L901.3 2779.2L902.7 2779.2L904.2 2779.2L905.7 2779.2L907.2 2779.2L908.7 2779.1L910.2 2778.8L911.7 2778.3L913.3 2777.7L914.8 2777.2L916.3 2776.7L917.8 2776.2L919.4 2775.6L920.9 2775.1L922.5 2774.9L924.1 2775.3L925.7 2776.2L927.4 2777.1L929.0 2777.8L930.6 2778.1L932.1 2778.4L933.7 2778.7L935.2 2778.9L936.8 2779.1L938.4 2779.2L939.9 2779.2L941.4 2779.2L942.9 2779.2L944.4 2779.2L945.9 2779.2L947.4 2779.2L948.9 2779.1L950.4 2779.1L951.9 2779.1L953.4 2779.0L954.9 2779.0L956.4 2778.9L957.9 2778.9L959.4 2778.8L960.9 2778.7L962.4 2778.7L963.9 2778.6L965.4 2778.5L966.8 2778.3L968.3 2778.1L969.7 2777.8L971.2 2777.5L972.6 2777.4L974.0 2777.5L975.4 2777.8L976.7 2778.0L978.1 2778.1L979.5 2778.0L980.9 2777.6L982.3 2777.1L983.7 2776.5L985.1 2776.1L986.5 2776.0L988.1 2776.2L989.6 2776.7L991.2 2777.4L992.8 2778.1L994.4 2778.5L996.0 2778.8L997.6 2779.0L999.1 2779.2L1000.7 2779.4L1002.2 2779.5L1003.8 2779.6L1005.4 2779.6L1006.9 2779.6L1008.4 2779.6L1009.9 2779.6L1011.4 2779.6L1012.9 2779.6L1014.4 2779.6L1015.9 2779.6L1017.4 2779.6L1018.9 2779.6L1020.4 2779.6L1021.9 2779.6L1023.4 2779.6L1024.9 2779.6L1026.4 2779.6L1028.0 2779.6L1029.5 2779.6L1031.0 2779.6L1032.5 2779.6L1034.0 2779.6L1035.5 2779.6L1037.0 2779.6L1038.5 2779.6L1040.0 2779.6L1041.5 2779.6L1043.0 2779.6L1044.5 2779.6L1046.0 2779.6L1047.5 2779.6L1049.0 2779.6L1050.5 2779.6L1052.1 2779.6L1053.6 2779.6L1055.1 2779.6L1056.6 2779.6L1058.1 2779.6L1059.6 2779.6L1061.1 2779.6L1062.6 2779.6L1064.1 2779.6L1065.6 2779.6L1067.1 2779.6L1068.6 2779.6L1070.1 2779.6L1071.6 2779.6L1073.1 2779.6L1074.7 2779.6L1076.2 2779.6L1077.7 2779.6L1079.2 2779.6L1080.7 2779.6L1082.2 2779.5L1083.7 2779.5L1085.2 2779.5L1086.7 2779.5L1088.2 2779.5L1089.7 2779.5L1091.2 2779.5L1092.7 2779.5L1094.2 2779.5L1095.7 2779.5L1097.2 2779.5L1098.8 2779.5L1100.3 2779.5L1101.8 2779.5L1103.3 2779.5L1104.8 2779.5L1106.3 2779.5L1107.8 2779.5L1109.3 2779.5L1110.8 2779.5L1112.3 2779.5L1113.8 2779.5L1115.3 2779.5L1116.8 2779.5L1118.3 2779.5L1119.8 2779.5L1121.4 2779.5L1122.9 2779.5L1124.4 2779.4L1125.9 2779.4L1127.4 2779.4L1128.9 2779.4L1130.4 2779.4L1131.9 2779.4L1133.4 2779.4L1134.9 2779.4L1136.4 2779.4L1137.9 2779.4L1139.4 2779.4L1140.9 2779.4L1142.4 2779.4L1143.9 2779.4L1145.5 2779.4L1147.0 2779.4L1148.5 2779.4L1150.0 2779.4L1151.5 2779.3L1153.0 2779.3L1154.5 2779.3L1156.0 2779.3L1157.5 2779.3L1159.0 2779.3L1160.5 2779.3L1162.0 2779.3L1163.5 2779.3L1165.0 2779.3L1166.5 2779.3L1168.1 2779.3L1169.6 2779.3L1171.1 2779.2L1172.6 2779.2L1174.0 2779.2L1175.5 2779.2L1176.9 2779.2L1178.4 2779.1L1179.8 2779.1L1181.3 2779.0L1182.7 2779.0L1184.2 2778.9L1185.7 2778.8L1187.1 2778.7L1188.6 2778.6L1190.0 2778.5L1191.5 2778.4L1192.9 2778.3L1194.4 2778.1L1195.9 2778.0L1197.5 2777.7L1199.1 2777.3L1200.6 2776.8L1202.2 2776.3L1203.7 2775.8L1205.3 2775.2L1206.7 2774.6L1208.2 2773.9L1209.6 2773.1L1211.1 2772.3L1212.6 2771.6L1214.0 2770.9L1215.5 2770.5L1216.9 2771.1L1218.4 2772.1L1219.8 2772.7L1221.2 2772.6L1222.6 2772.5L1223.9 2772.3L1225.3 2772.0L1226.9 2771.4L1228.4 2770.3L1230.0 2768.8L1231.3 2766.5L1232.6 2763.1L1234.0 2759.6L1235.7 2754.5L1237.4 2750.3L1238.6 2748.5L1239.8 2747.7L1241.1 2750.0L1242.4 2754.3L1243.9 2759.7L1245.3 2764.8L1247.2 2768.9L1249.0 2771.4L1250.6 2772.8L1252.1 2773.8L1253.6 2774.6L1255.1 2774.9L1256.7 2774.9L1258.2 2774.9L1259.7 2774.9L1261.3 2774.9L1262.8 2774.9L1264.4 2774.9L1265.9 2774.8L1267.4 2774.6L1268.9 2774.2L1270.4 2773.8L1271.9 2773.4L1273.4 2773.1L1274.9 2772.8L1276.5 2772.6L1278.0 2772.4L1279.5 2772.3L1281.0 2772.1L1282.5 2771.9L1284.0 2771.7L1285.5 2771.4L1287.2 2770.7L1288.8 2769.6L1290.5 2768.6L1292.1 2768.0L1293.7 2767.9L1295.2 2767.8L1296.8 2767.7L1298.3 2767.7L1299.8 2767.6L1301.4 2767.5L1303.0 2767.1L1304.7 2766.4L1306.3 2765.4L1308.0 2764.3L1309.6 2762.9L1311.3 2760.9L1312.9 2758.4L1314.6 2755.6L1315.9 2752.9L1317.2 2749.7L1318.6 2745.7L1319.9 2741.0L1321.2 2735.0L1322.5 2727.1L1323.9 2717.3L1325.2 2703.6L1326.5 2685.5L1328.6 2645.9L1330.5 2598.3L1332.0 2545.4L1333.6 2492.5L1335.0 2452.9L1336.3 2428.6L1337.6 2452.9L1339.2 2500.5L1341.0 2553.3L1343.2 2606.2L1345.3 2651.2L1346.5 2672.6L1347.6 2690.8L1349.0 2706.9L1350.3 2719.9L1352.0 2733.6L1353.7 2743.7L1355.2 2749.8L1356.7 2754.6L1358.2 2758.2L1359.5 2760.8L1360.9 2763.0L1362.2 2764.8L1363.5 2766.2L1365.2 2767.5L1366.8 2768.5L1368.5 2769.4L1370.1 2770.1L1371.7 2770.7L1373.2 2771.3L1374.7 2771.8L1376.3 2772.2L1377.8 2772.6L1379.4 2772.8L1380.9 2772.9L1382.3 2773.0L1383.8 2773.1L1385.3 2773.2L1386.8 2773.2L1388.3 2773.3L1389.8 2773.3L1391.3 2773.3L1392.9 2773.1L1394.4 2772.6L1396.0 2771.9L1397.6 2771.0L1399.2 2770.1L1400.5 2769.3L1401.8 2768.3L1403.2 2767.2L1404.5 2766.2L1405.8 2765.2L1407.1 2764.3L1408.5 2763.5L1410.2 2762.6L1411.9 2762.2L1413.5 2763.1L1415.1 2764.3L1416.4 2764.7L1417.7 2765.0L1419.0 2765.4L1420.4 2766.0L1421.7 2766.6L1423.0 2767.0L1424.3 2766.0L1425.6 2763.8L1427.0 2761.7L1428.3 2759.5L1429.6 2758.2L1430.9 2758.2L1432.2 2758.2L1433.6 2760.2L1434.9 2763.5L1436.2 2766.1L1437.5 2768.6L1438.9 2770.7L1440.2 2772.2L1441.5 2773.6L1442.8 2774.7L1444.1 2775.4L1445.7 2776.1L1447.3 2776.6L1448.9 2777.1L1450.5 2777.4L1452.1 2777.5L1453.6 2777.5L1455.1 2777.5L1456.6 2777.5L1458.1 2777.5L1459.6 2777.5L1461.1 2777.5L1462.7 2777.5L1464.2 2777.4L1465.8 2777.1L1467.4 2776.7L1469.0 2776.1L1470.6 2775.4L1471.9 2774.6L1473.2 2773.4L1474.5 2771.9L1475.9 2770.1L1477.2 2767.9L1478.5 2765.2L1479.8 2762.2L1481.4 2757.7L1483.0 2754.3L1485.1 2752.9L1486.4 2755.4L1487.8 2759.6L1489.5 2764.6L1491.2 2768.8L1492.7 2771.1L1494.2 2772.9L1495.7 2774.1L1497.2 2774.8L1498.8 2775.3L1500.3 2775.7L1501.9 2776.1L1503.4 2776.4L1505.0 2776.7L1506.5 2777.1L1508.0 2777.4L1509.5 2777.7L1511.0 2778.0L1512.5 2778.2L1514.0 2778.4L1515.5 2778.6L1517.1 2778.7L1518.6 2778.8L1520.2 2779.0L1521.7 2779.1L1523.2 2779.2L1524.8 2779.3L1526.3 2779.4L1527.9 2779.4L1529.4 2779.5L1530.9 2779.6L1532.5 2779.6L1534.0 2779.6L1535.5 2779.7L1537.0 2779.7L1538.4 2779.7L1539.9 2779.7L1541.4 2779.8L1542.8 2779.8L1544.3 2779.8L1545.8 2779.8L1547.3 2779.8L1548.7 2779.8L1550.2 2779.9L1551.7 2779.9L1553.1 2779.9L1554.6 2779.9L1556.1 2779.9L1557.5 2779.9L1559.0 2779.9L1560.5 2779.9L1561.9 2779.9L1563.4 2779.9L1564.9 2779.9L1566.3 2779.9L1567.8 2779.9L1569.3 2779.9L1570.8 2779.9L1572.2 2779.9L1573.7 2779.8L1575.2 2779.8L1576.6 2779.8L1578.1 2779.8L1579.6 2779.8L1581.0 2779.7L1582.5 2779.7L1584.0 2779.7L1585.4 2779.7L1586.9 2779.6L1588.4 2779.6L1589.8 2779.5L1591.3 2779.5L1592.8 2779.3L1594.3 2779.2L1595.7 2779.1L1597.2 2778.9L1598.7 2778.8L1600.1 2778.6L1601.7 2778.4L1603.4 2778.1L1605.0 2777.7L1606.6 2777.1L1607.9 2776.4L1609.3 2775.1L1610.6 2773.6L1611.9 2771.8L1613.2 2769.6L1614.5 2766.8L1615.9 2763.9L1617.2 2760.7L1618.5 2757.2L1619.8 2754.7L1621.5 2752.3L1623.3 2751.2L1624.9 2753.9L1626.4 2758.6L1627.8 2762.4L1629.1 2766.3L1630.4 2769.2L1631.7 2771.2L1633.0 2772.8L1634.4 2774.1L1635.7 2775.0L1637.2 2775.8L1638.8 2776.4L1640.3 2777.0L1641.9 2777.4L1643.4 2777.7L1644.9 2777.9L1646.4 2778.1L1647.8 2778.2L1649.3 2778.3L1650.7 2778.4L1652.2 2778.5L1653.6 2778.5L1655.0 2778.6L1656.5 2778.7L1657.9 2778.7L1659.4 2778.7L1660.8 2778.7L1662.3 2778.7L1663.7 2778.7L1665.2 2778.6L1666.7 2778.5L1668.2 2778.4L1669.6 2778.2L1671.1 2778.0L1672.6 2777.9L1674.0 2777.7L1675.6 2777.2L1677.2 2776.5L1678.8 2775.6L1680.4 2774.9L1682.0 2774.5L1683.5 2774.3L1685.0 2774.1L1686.5 2774.0L1688.0 2773.9L1689.5 2773.8L1691.0 2773.7L1692.5 2773.7L1694.1 2773.8L1695.7 2774.0L1697.3 2774.3L1698.9 2774.7L1700.5 2775.0L1702.0 2775.4L1703.5 2775.8L1705.0 2776.3L1706.5 2776.7L1708.0 2777.1L1709.5 2777.5L1711.0 2777.7L1712.5 2777.8L1714.0 2777.9L1715.4 2777.9L1716.9 2778.0L1718.4 2778.1L1719.9 2778.1L1721.3 2778.2L1722.8 2778.2L1724.3 2778.2L1725.8 2778.1L1727.3 2777.9L1728.8 2777.6L1730.3 2777.2L1731.8 2776.7L1733.3 2776.3L1734.8 2775.8L1736.4 2775.3L1738.0 2774.6L1739.6 2773.9L1741.2 2773.2L1742.8 2772.4L1744.4 2771.4L1746.1 2770.3L1747.7 2769.3L1749.4 2768.7L1750.7 2768.4L1752.0 2768.1L1753.3 2767.9L1754.7 2767.9L1756.0 2768.1L1757.3 2768.8L1758.6 2769.7L1759.9 2770.5L1761.6 2771.6L1763.3 2772.9L1764.9 2774.1L1766.6 2775.0L1768.1 2775.7L1769.6 2776.4L1771.1 2777.1L1772.6 2777.7L1774.1 2778.2L1775.6 2778.5L1777.1 2778.7L1778.7 2778.8L1780.2 2778.9L1781.8 2778.9L1783.3 2779.0L1784.8 2779.1L1786.4 2779.1L1787.9 2779.2L1789.5 2779.2L1791.0 2779.2L1792.6 2779.2L1794.1 2779.2L1795.6 2779.2L1797.1 2779.2L1798.6 2779.2L1800.0 2779.1L1801.5 2779.1L1803.0 2779.0L1804.5 2778.9L1805.9 2778.7L1807.4 2778.6L1808.9 2778.5L1810.5 2778.1L1812.2 2777.6L1813.8 2777.1L1815.5 2776.6L1816.8 2776.3L1818.1 2776.1L1819.4 2776.6L1820.8 2777.5L1822.1 2778.2L1823.6 2778.5L1825.1 2778.7L1826.6 2778.9L1828.1 2779.0L1829.6 2779.2L1831.1 2779.2L1832.7 2779.2L1834.1 2779.2L1835.6 2779.2L1837.1 2779.2L1838.5 2779.2L1840.0 2779.2L1841.5 2779.2L1842.9 2779.2L1844.4 2779.2L1845.9 2779.2L1847.3 2779.2L1848.8 2779.2L1850.3 2779.2L1851.7 2779.2L1853.2 2779.2L1854.7 2779.2L1856.2 2779.2L1857.6 2779.2L1859.1 2779.2L1860.5 2779.2L1862.0 2779.2L1863.4 2779.1L1864.9 2779.1L1866.3 2779.0L1867.7 2778.9L1869.2 2778.8L1870.6 2778.6L1872.1 2778.5L1873.5 2778.3L1875.0 2778.2L1876.5 2778.0L1878.0 2777.7L1879.6 2777.3L1881.1 2776.9L1882.7 2776.4L1884.2 2775.8L1885.9 2775.1L1887.5 2774.1L1889.2 2772.8L1890.8 2771.3L1892.1 2769.6L1893.5 2767.3L1894.8 2765.2L1896.5 2762.7L1898.2 2761.3L1899.8 2762.0L1901.4 2763.4L1902.7 2764.6L1904.0 2765.9L1905.4 2766.6L1907.1 2765.9L1908.8 2764.4L1910.6 2761.3L1912.5 2756.0L1913.8 2749.2L1915.1 2740.1L1916.5 2729.6L1917.8 2719.0L1919.9 2705.8L1921.5 2703.6L1923.6 2713.7L1924.9 2723.9L1926.2 2734.8L1927.7 2745.2L1929.1 2753.3L1930.5 2758.3L1931.8 2762.3L1933.1 2765.2L1934.4 2767.4L1935.8 2769.2L1937.1 2770.7L1938.4 2771.8L1940.0 2772.9L1941.6 2773.9L1943.2 2774.7L1944.7 2775.4L1946.3 2775.8L1947.8 2776.1L1949.3 2776.3L1950.7 2776.4L1952.2 2776.5L1953.7 2776.6L1955.1 2776.8L1956.6 2777.0L1958.1 2777.3L1959.6 2777.7L1960.0 2778.1L1961.5 2778.1L1963.1 2778.1L1964.6 2778.1L1966.1 2778.1L1967.6 2778.1L1969.2 2778.0L1970.7 2778.0L1972.2 2778.0L1973.7 2777.9L1975.3 2777.9L1976.8 2777.8L1978.3 2777.8L1979.8 2777.8L1981.4 2777.7L1982.9 2777.7L1984.4 2777.6L1985.9 2777.6L1987.5 2777.5L1989.0 2777.5L1990.5 2777.4L1992.0 2777.4L1993.6 2777.3L1995.1 2777.2L1996.6 2777.1L1998.1 2777.1L1999.7 2777.0L2001.2 2776.8L2002.7 2776.7L2004.3 2776.5L2005.8 2776.3L2007.4 2776.1L2008.9 2775.8L2010.5 2775.6L2012.0 2775.3L2013.5 2775.0L2015.0 2774.7L2016.5 2774.4L2018.0 2774.0L2019.5 2773.6L2021.0 2773.2L2022.5 2772.7L2023.9 2772.2L2025.4 2771.6L2027.0 2770.9L2028.6 2770.0L2030.2 2768.9L2031.8 2767.8L2033.4 2766.6L2034.9 2765.5L2036.3 2764.2L2037.8 2762.9L2039.3 2761.7L2040.8 2760.7L2042.3 2759.9L2043.8 2759.0L2045.3 2757.7L2046.6 2756.0L2047.9 2753.6L2049.2 2750.8L2051.0 2746.4L2052.8 2740.9L2054.0 2735.9L2055.2 2731.0L2057.2 2725.0L2058.5 2723.1L2059.8 2721.8L2061.1 2720.1L2062.6 2717.2L2064.1 2713.1L2065.4 2706.6L2066.7 2697.3L2068.7 2677.4L2070.6 2647.7L2072.2 2617.9L2073.6 2578.3L2075.0 2538.6L2076.2 2499.0L2077.2 2459.3L2078.2 2425.6L2079.0 2409.7L2080.0 2407.4L2081.0 2409.7L2081.7 2425.6L2082.9 2459.3L2084.1 2499.0L2085.5 2538.6L2086.9 2578.3L2088.5 2617.9L2090.1 2653.6L2092.1 2681.4L2093.2 2695.3L2094.4 2707.2L2095.6 2717.0L2096.8 2725.0L2098.3 2732.8L2099.8 2738.9L2101.5 2744.5L2103.2 2748.8L2104.7 2751.8L2106.2 2754.3L2107.7 2755.3L2109.0 2755.0L2110.4 2754.1L2111.7 2752.8L2113.0 2749.8L2114.3 2744.8L2116.2 2732.9L2118.0 2717.1L2119.6 2703.2L2121.0 2693.3L2122.6 2691.7L2124.2 2701.2L2125.8 2717.1L2127.5 2734.9L2129.5 2748.8L2131.0 2754.0L2132.5 2757.7L2133.8 2760.4L2135.1 2762.7L2136.5 2764.7L2138.1 2767.0L2139.8 2769.0L2141.4 2770.6L2142.8 2771.6L2144.2 2772.6L2145.6 2773.3L2147.0 2774.0L2148.4 2774.6L2149.8 2775.1L2151.2 2775.5L2152.6 2776.0L2154.0 2776.3L2155.4 2776.7L2156.9 2776.9L2158.3 2777.2L2159.8 2777.4L2161.3 2777.6L2162.9 2777.7L2164.4 2777.9L2165.9 2778.1L2167.4 2778.2L2169.0 2778.3L2170.5 2778.4L2172.0 2778.6L2173.5 2778.7L2175.1 2778.8L2176.6 2778.9L2178.1 2778.9L2179.6 2779.0L2181.1 2779.1L2182.6 2779.2L2184.1 2779.3L2185.5 2779.3L2187.0 2779.4L2188.5 2779.5L2190.0 2779.6L2191.5 2779.6L2193.0 2779.7L2194.5 2779.7L2196.0 2779.8L2197.4 2779.8L2198.9 2779.9L2200.4 2779.9L2201.9 2780.0L2203.4 2780.0L2204.9 2780.1L2206.4 2780.1L2207.9 2780.1L2209.3 2780.2L2210.8 2780.2L2212.3 2780.2L2213.8 2780.2L2215.3 2780.3L2216.8 2780.3L2218.3 2780.3L2219.7 2780.3L2221.2 2780.3L2222.7 2780.3L2224.2 2780.4L2225.7 2780.4L2227.2 2780.4L2228.7 2780.4L2230.2 2780.4L2231.6 2780.4L2233.1 2780.4L2234.6 2780.5L2236.1 2780.5L2237.6 2780.5L2239.1 2780.5L2240.6 2780.5" fill="none" stroke="#000" stroke-width="2.6" stroke-linejoin="round"/>
<path d="M177.1 3354.5L178.7 3355.9L180.3 3357.2L181.9 3358.5L183.4 3359.3L184.9 3360.0L186.4 3361.1L188.0 3363.6L189.6 3367.1L191.2 3370.4L192.5 3372.4L193.8 3374.2L195.1 3375.9L196.4 3377.8L198.1 3380.2L199.7 3382.7L201.4 3385.2L203.0 3387.5L204.7 3389.6L206.4 3391.6L208.0 3393.5L209.7 3395.5L211.2 3397.6L212.8 3399.8L214.4 3402.1L216.0 3404.2L217.6 3406.0L219.2 3407.6L220.8 3409.0L222.3 3410.3L223.9 3411.5L225.5 3412.7L227.1 3413.7L228.6 3414.7L230.1 3415.7L231.7 3416.6L233.2 3417.4L234.8 3417.9L236.3 3418.4L237.8 3418.7L239.3 3419.1L240.8 3419.4L242.3 3419.6L243.8 3419.9L245.3 3420.1L246.8 3420.2L248.3 3420.4L249.8 3420.6L251.3 3420.8L252.8 3420.9L254.3 3421.0L255.8 3421.1L257.2 3421.1L258.8 3421.1L260.3 3421.0L261.9 3420.8L263.4 3420.6L265.0 3420.3L266.5 3420.1L268.1 3419.5L269.8 3418.6L271.5 3417.6L273.1 3416.6L274.7 3415.7L276.3 3414.8L277.9 3413.9L279.5 3413.2L281.0 3412.7L282.5 3412.3L284.1 3412.0L285.6 3411.7L287.1 3411.4L288.6 3411.2L290.1 3411.1L291.6 3411.1L293.1 3411.1L294.6 3411.1L296.1 3411.2L297.7 3411.3L299.2 3411.4L300.7 3411.5L302.2 3411.6L303.8 3411.8L305.4 3412.2L306.9 3412.6L308.5 3413.0L310.1 3413.2L311.6 3413.3L313.1 3413.4L314.7 3413.5L316.2 3413.6L317.7 3413.7L319.2 3413.7L320.7 3413.7L322.2 3413.6L323.8 3413.4L325.3 3413.1L326.9 3412.6L328.4 3412.1L329.9 3411.6L331.6 3410.9L333.3 3409.9L334.9 3408.8L336.6 3407.4L337.9 3405.9L339.2 3404.1L340.5 3401.9L341.8 3399.4L343.2 3396.6L344.5 3393.1L345.8 3388.9L347.5 3380.8L349.2 3370.4L350.6 3360.6L351.9 3349.2L353.2 3336.7L354.5 3322.8L356.6 3296.3L358.8 3267.2L360.9 3238.2L363.0 3214.4L365.1 3201.2L367.0 3199.0L368.8 3203.8L370.9 3222.3L372.2 3234.2L373.6 3246.1L374.9 3258.3L376.2 3269.9L377.8 3282.4L379.4 3293.7L381.1 3304.5L382.8 3314.8L384.5 3325.7L386.3 3336.0L387.8 3343.7L389.3 3350.8L390.8 3357.1L392.1 3362.0L393.4 3366.3L394.7 3370.4L396.0 3374.2L397.4 3377.7L398.7 3380.9L400.0 3384.0L401.3 3386.7L402.7 3388.9L404.1 3390.7L405.6 3392.2L407.1 3392.8L408.7 3392.7L410.2 3392.4L411.7 3392.0L413.2 3391.5L414.5 3390.7L415.9 3389.6L417.2 3388.5L418.5 3388.1L419.8 3388.1L421.2 3388.1L422.5 3388.2L423.8 3388.3L425.5 3388.8L427.1 3389.7L428.8 3390.9L430.4 3392.0L432.1 3393.1L433.7 3394.1L435.4 3395.3L437.0 3396.8L438.3 3398.4L439.7 3400.5L441.0 3402.7L442.3 3404.7L443.6 3406.5L445.0 3408.2L446.3 3409.8L447.6 3411.3L449.2 3413.1L450.9 3414.8L452.6 3416.4L454.2 3417.9L455.7 3419.4L457.1 3421.0L458.6 3422.2L460.0 3422.7L461.6 3422.4L463.2 3421.8L464.8 3421.1L466.1 3420.4L467.4 3419.5L468.7 3418.8L470.1 3418.5L471.4 3418.6L472.7 3419.0L474.0 3419.5L475.4 3420.2L476.7 3421.2L478.0 3422.1L479.3 3422.7L480.9 3423.0L482.4 3423.3L483.9 3423.5L485.5 3423.6L487.0 3423.7L488.6 3423.8L490.1 3423.7L491.5 3423.6L493.0 3423.4L494.5 3423.2L496.0 3422.9L497.5 3422.7L499.0 3422.4L500.5 3422.2L502.0 3422.0L503.5 3421.8L505.0 3421.6L506.5 3421.4L508.0 3421.1L509.5 3420.9L511.0 3420.6L512.6 3420.2L514.2 3419.8L515.8 3419.3L517.4 3418.7L519.0 3417.9L520.3 3416.8L521.6 3415.2L522.9 3413.7L524.3 3412.7L525.8 3412.1L527.4 3411.6L529.0 3411.3L530.6 3410.9L532.2 3410.5L533.8 3410.1L535.4 3409.6L537.0 3409.1L538.5 3408.6L540.1 3408.2L541.7 3407.7L543.2 3407.3L544.8 3406.8L546.3 3406.4L547.8 3406.1L549.4 3406.0L550.9 3406.1L552.5 3406.2L554.0 3406.3L555.5 3406.5L557.1 3406.6L558.6 3406.8L560.0 3407.1L561.6 3407.6L563.1 3408.6L564.7 3409.7L566.2 3410.9L567.8 3412.0L569.3 3413.0L570.9 3413.6L572.4 3414.0L573.8 3414.4L575.3 3414.8L576.7 3415.1L578.2 3415.4L579.6 3415.6L581.1 3415.9L582.5 3416.0L584.0 3416.1L585.4 3416.2L586.9 3416.1L588.4 3416.0L589.8 3415.8L591.3 3415.6L592.7 3415.4L594.2 3415.2L595.6 3415.0L597.1 3414.9L598.5 3414.7L600.0 3414.7L601.6 3414.7L603.2 3414.7L604.8 3414.7L606.3 3414.7L607.9 3414.7L609.5 3414.7L611.1 3414.7L612.7 3414.7L614.3 3414.9L615.9 3415.5L617.5 3416.3L619.1 3417.2L620.7 3418.3L622.3 3419.3L623.8 3420.2L625.4 3420.9L627.0 3421.4L628.6 3421.9L630.2 3422.4L631.8 3422.8L633.4 3423.3L635.0 3423.7L636.6 3424.1L638.2 3424.5L639.7 3425.0L641.3 3425.5L642.9 3426.1L644.5 3426.6L646.1 3427.1L647.7 3427.4L649.3 3427.7L650.9 3427.8L652.5 3427.7L654.1 3427.4L655.7 3427.0L657.2 3426.5L658.8 3425.9L660.4 3425.2L662.0 3424.5L663.6 3423.8L665.2 3422.9L666.7 3421.9L668.3 3420.6L669.8 3419.3L671.4 3417.9L672.9 3416.6L674.5 3415.4L676.0 3414.3L677.5 3413.2L679.1 3412.2L680.6 3411.1L682.1 3410.2L683.6 3409.2L685.2 3408.5L686.8 3407.8L688.4 3407.2L690.0 3406.4L691.6 3405.2L693.0 3403.2L694.5 3400.1L696.0 3396.7L697.4 3393.6L698.9 3390.6L700.3 3387.8L701.8 3386.3L703.1 3386.0L704.5 3385.8L705.9 3385.7L707.2 3385.6L708.6 3385.9L710.0 3386.8L711.3 3387.9L712.7 3389.3L714.0 3391.1L715.4 3393.6L716.8 3396.4L718.1 3399.1L719.6 3401.9L721.0 3405.0L722.5 3408.0L723.9 3410.7L725.4 3412.9L726.9 3414.7L728.4 3416.3L729.9 3417.8L731.5 3419.1L733.0 3420.1L734.5 3420.9L736.0 3421.4L737.5 3422.0L739.0 3422.4L740.5 3422.7L742.1 3423.0L743.6 3423.1L745.2 3423.0L746.8 3422.8L748.3 3422.6L749.9 3422.2L751.5 3421.9L753.1 3421.5L754.7 3421.2L756.3 3420.9L757.9 3420.6L759.4 3420.3L761.0 3419.9L762.5 3419.6L764.1 3419.3L765.6 3419.1L767.2 3419.1L768.7 3419.2L770.2 3419.6L771.7 3420.2L773.3 3420.7L774.8 3421.1L776.3 3421.2L777.9 3421.2L779.4 3421.2L781.0 3421.2L782.5 3421.1L784.1 3421.1L785.6 3421.0L787.2 3420.9L788.7 3420.3L790.1 3418.9L791.6 3417.2L793.0 3415.5L794.5 3414.3L795.9 3413.5L797.4 3412.7L798.8 3412.1L800.3 3411.6L801.7 3411.4L803.3 3411.5L804.8 3411.7L806.3 3411.9L807.8 3412.2L809.3 3412.5L810.8 3412.9L812.3 3413.3L813.9 3413.8L815.4 3414.4L816.9 3415.0L818.4 3415.6L819.9 3416.2L821.5 3416.8L823.0 3417.4L824.6 3418.1L826.1 3418.7L827.7 3419.3L829.3 3419.8L830.8 3420.2L832.3 3420.4L833.7 3420.6L835.2 3420.8L836.6 3421.0L838.1 3421.2L839.5 3421.3L841.0 3421.4L842.5 3421.5L843.9 3421.6L845.4 3421.6L847.0 3421.5L848.5 3421.3L850.1 3421.0L851.7 3420.6L853.3 3420.2L854.9 3419.8L856.5 3419.4L858.1 3419.1L859.6 3418.8L861.2 3418.4L862.8 3418.1L864.3 3417.8L865.9 3417.5L867.4 3417.3L869.0 3417.2L870.5 3417.4L872.0 3417.7L873.5 3418.2L875.0 3418.8L876.6 3419.3L878.1 3419.8L879.6 3420.3L881.1 3420.8L882.6 3421.4L884.1 3421.9L885.6 3422.2L887.2 3422.3L888.7 3422.3L890.2 3422.2L891.7 3422.1L893.2 3421.9L894.7 3421.7L896.3 3421.5L897.8 3421.2L899.3 3421.0L900.8 3420.7L902.3 3420.5L903.8 3420.3L905.3 3420.2L906.8 3420.0L908.2 3419.9L909.7 3419.8L911.2 3419.7L912.6 3419.6L914.1 3419.5L915.5 3419.4L917.0 3419.3L918.4 3419.2L919.9 3419.1L921.3 3419.0L922.8 3418.8L924.2 3418.7L925.7 3418.5L927.2 3418.3L928.7 3418.0L930.3 3417.5L931.8 3416.9L933.4 3416.3L934.9 3415.7L936.5 3415.3L938.1 3415.1L939.6 3415.0L941.2 3414.9L942.8 3414.8L944.4 3414.8L946.0 3414.8L947.6 3414.7L949.2 3414.7L950.8 3414.7L952.3 3414.7L953.9 3414.8L955.5 3414.9L957.0 3415.1L958.6 3415.3L960.1 3415.5L961.7 3415.8L963.1 3416.3L964.6 3417.3L966.0 3418.5L967.5 3419.8L969.0 3420.9L970.3 3421.9L971.7 3423.1L973.1 3424.3L974.5 3425.3L975.9 3426.1L977.3 3426.3L978.9 3426.3L980.5 3426.3L982.1 3426.2L983.7 3426.1L985.3 3426.0L986.8 3425.7L988.2 3425.4L989.7 3425.0L991.1 3424.6L992.6 3424.5L994.1 3424.6L995.6 3424.9L997.1 3425.2L998.6 3425.6L1000.2 3426.0L1001.7 3426.3L1003.2 3426.6L1004.8 3426.9L1006.3 3427.1L1007.9 3427.4L1009.5 3427.6L1011.0 3427.7L1012.6 3427.8L1014.1 3427.8L1015.6 3427.8L1017.1 3427.8L1018.6 3427.8L1020.2 3427.8L1021.7 3427.8L1023.2 3427.8L1024.7 3427.8L1026.2 3427.8L1027.7 3427.8L1029.2 3427.8L1030.8 3427.8L1032.3 3427.8L1033.8 3427.8L1035.3 3427.8L1036.8 3427.8L1038.3 3427.8L1039.8 3427.8L1041.3 3427.8L1042.8 3427.8L1044.3 3427.7L1045.8 3427.7L1047.3 3427.6L1048.8 3427.5L1050.3 3427.4L1051.8 3427.3L1053.3 3427.2L1054.8 3427.1L1056.3 3426.9L1057.8 3426.8L1059.3 3426.6L1060.8 3426.5L1062.3 3426.3L1063.8 3426.1L1065.3 3426.0L1066.7 3425.7L1068.2 3425.4L1069.6 3425.0L1071.1 3424.6L1072.6 3424.1L1074.0 3423.7L1075.5 3423.3L1076.9 3423.0L1078.4 3422.8L1079.8 3422.7L1080.0 3423.7L1081.5 3423.5L1083.0 3423.0L1084.5 3422.2L1086.0 3421.3L1087.6 3420.3L1089.1 3419.3L1090.6 3418.4L1092.1 3417.6L1093.6 3416.7L1095.1 3415.8L1096.6 3415.0L1098.1 3414.1L1099.6 3413.3L1101.2 3412.6L1102.8 3411.7L1104.5 3410.9L1106.1 3410.2L1107.8 3409.9L1109.4 3410.0L1111.1 3410.1L1112.7 3410.3L1114.4 3410.5L1116.0 3411.0L1117.5 3412.1L1119.1 3413.4L1120.7 3414.7L1122.3 3415.8L1123.8 3416.4L1125.3 3417.0L1126.8 3417.6L1128.3 3418.1L1129.9 3418.6L1131.4 3419.2L1132.9 3419.7L1134.4 3420.4L1135.9 3421.0L1137.4 3421.7L1138.9 3422.4L1140.4 3423.1L1141.9 3423.7L1143.5 3424.2L1145.0 3424.7L1146.5 3425.2L1148.0 3425.6L1149.5 3426.0L1151.0 3426.4L1152.5 3426.7L1154.0 3426.9L1155.5 3427.0L1157.0 3427.1L1158.4 3427.3L1159.9 3427.4L1161.4 3427.5L1162.8 3427.5L1164.3 3427.6L1165.8 3427.6L1167.2 3427.7L1168.7 3427.6L1170.2 3427.5L1171.7 3427.4L1173.1 3427.2L1174.6 3426.9L1176.1 3426.7L1177.5 3426.4L1179.0 3426.1L1180.5 3425.8L1182.0 3425.5L1183.5 3425.2L1185.1 3424.8L1186.6 3424.3L1188.2 3423.8L1189.7 3423.2L1191.4 3422.2L1193.0 3420.7L1194.7 3419.0L1196.3 3417.1L1197.8 3415.2L1199.2 3413.0L1200.7 3410.6L1202.1 3407.8L1203.7 3404.5L1205.3 3400.6L1206.9 3395.9L1208.2 3391.1L1209.5 3385.2L1210.9 3378.7L1212.2 3370.9L1213.5 3362.9L1215.6 3352.3L1217.5 3349.7L1219.6 3355.0L1221.7 3370.8L1222.9 3381.5L1224.1 3392.0L1225.4 3402.0L1226.7 3410.5L1228.1 3417.4L1229.4 3422.4L1230.7 3425.6L1232.0 3428.0L1233.3 3429.0L1234.9 3428.9L1236.5 3428.9L1238.1 3428.7L1239.7 3428.6L1241.3 3428.4L1242.8 3428.2L1244.3 3427.9L1245.8 3427.5L1247.3 3427.0L1248.8 3426.6L1250.3 3426.1L1251.8 3425.8L1253.3 3425.5L1254.8 3425.3L1256.3 3425.1L1257.7 3424.9L1259.2 3424.7L1260.7 3424.5L1262.1 3424.3L1263.6 3424.0L1265.1 3423.7L1266.6 3423.3L1268.1 3422.9L1269.6 3422.4L1271.1 3421.8L1272.6 3421.2L1274.1 3420.5L1275.6 3419.7L1277.2 3418.8L1278.8 3417.6L1280.4 3416.2L1282.0 3414.7L1283.6 3413.1L1285.2 3411.3L1286.9 3409.2L1288.5 3406.7L1290.2 3403.9L1291.7 3400.7L1293.2 3396.7L1294.7 3392.0L1296.4 3385.1L1298.1 3376.1L1299.4 3366.8L1300.8 3355.0L1302.9 3328.5L1304.7 3296.8L1306.3 3259.8L1307.9 3217.5L1309.5 3169.9L1311.1 3127.6L1312.7 3090.6L1313.2 3080.0L1315.4 3056.0L1316.6 3046.7L1317.8 3056.0L1319.6 3080.0L1320.6 3106.4L1322.2 3154.0L1323.8 3199.0L1325.3 3243.9L1326.9 3286.2L1328.5 3323.2L1330.4 3357.6L1332.2 3384.0L1334.3 3405.2L1335.7 3413.6L1337.0 3419.7L1338.7 3425.2L1340.4 3429.0L1341.7 3431.1L1343.1 3433.0L1344.4 3434.4L1345.7 3435.6L1347.3 3436.7L1348.9 3437.6L1350.5 3438.4L1352.0 3439.0L1353.6 3439.6L1355.1 3439.9L1356.6 3440.3L1358.1 3440.6L1359.6 3440.8L1361.1 3441.1L1362.6 3441.3L1364.0 3441.5L1365.5 3441.7L1367.0 3441.9L1368.5 3442.1L1370.1 3442.3L1371.6 3442.4L1373.1 3442.6L1374.6 3442.7L1376.1 3442.7L1377.7 3442.6L1379.3 3442.1L1380.9 3441.5L1382.4 3440.8L1384.0 3440.1L1385.6 3439.4L1387.2 3438.6L1388.8 3437.7L1390.4 3436.7L1392.0 3435.6L1393.6 3434.2L1395.3 3432.5L1396.9 3430.8L1398.6 3429.0L1399.9 3427.4L1401.2 3425.8L1402.5 3424.2L1403.9 3423.2L1405.2 3422.4L1406.5 3421.7L1407.8 3421.2L1409.1 3421.0L1410.5 3421.4L1411.8 3422.2L1413.1 3423.2L1414.7 3424.7L1416.3 3426.7L1417.9 3428.4L1419.3 3429.9L1420.8 3431.4L1422.2 3432.5L1423.7 3432.9L1425.0 3432.9L1426.3 3432.9L1427.7 3432.9L1429.0 3432.9L1430.6 3431.9L1432.1 3429.4L1433.7 3426.3L1435.6 3421.7L1437.4 3415.8L1439.2 3409.1L1440.9 3402.5L1442.6 3397.0L1444.3 3393.3L1445.8 3391.9L1447.3 3391.0L1448.8 3390.6L1450.1 3390.9L1451.4 3391.5L1452.8 3392.3L1454.1 3393.3L1455.6 3395.1L1457.1 3397.3L1458.6 3398.6L1460.0 3398.7L1461.3 3401.2L1462.6 3406.3L1464.0 3412.0L1465.3 3418.3L1466.6 3425.3L1467.9 3429.9L1469.3 3432.1L1470.6 3433.8L1471.9 3435.0L1473.2 3435.8L1474.8 3436.3L1476.3 3436.7L1477.8 3437.1L1479.4 3437.4L1480.9 3437.5L1482.5 3437.6L1484.0 3437.5L1485.4 3437.3L1486.9 3437.1L1488.4 3436.7L1489.9 3436.3L1491.4 3435.9L1492.9 3435.6L1494.4 3435.2L1495.9 3434.9L1497.3 3434.5L1498.8 3434.0L1500.3 3433.6L1501.8 3433.2L1503.3 3432.9L1504.8 3432.7L1506.3 3432.6L1507.8 3432.7L1509.4 3432.9L1510.9 3433.2L1512.4 3433.6L1514.0 3434.1L1515.5 3434.4L1517.0 3434.8L1518.5 3435.3L1520.1 3435.7L1521.6 3436.2L1523.1 3436.6L1524.6 3436.9L1526.1 3437.1L1527.5 3437.2L1529.0 3437.2L1530.4 3437.3L1531.9 3437.3L1533.3 3437.3L1534.7 3437.4L1536.2 3437.4L1537.6 3437.4L1539.1 3437.5L1540.5 3437.5L1542.0 3437.6L1543.4 3437.7L1544.9 3437.8L1546.4 3437.9L1547.8 3438.1L1549.3 3438.3L1550.8 3438.4L1552.2 3438.6L1553.7 3438.8L1555.2 3438.9L1556.7 3439.1L1558.2 3439.3L1559.7 3439.5L1561.2 3439.7L1562.7 3439.8L1564.2 3439.9L1565.8 3440.0L1567.3 3439.9L1568.8 3439.8L1570.3 3439.6L1571.8 3439.3L1573.3 3439.1L1574.8 3439.0L1576.3 3438.9L1577.8 3438.9L1579.2 3439.0L1580.7 3439.1L1582.1 3439.2L1583.5 3439.3L1585.0 3439.4L1586.4 3439.5L1587.9 3439.6L1589.3 3439.6L1590.7 3439.7L1592.2 3439.7L1593.6 3439.7L1595.1 3439.7L1596.5 3439.7L1598.0 3439.7L1599.4 3439.7L1600.8 3439.6L1602.3 3439.6L1603.7 3439.6L1605.2 3439.5L1606.6 3439.5L1608.1 3439.5L1609.6 3439.3L1611.1 3439.1L1612.6 3438.9L1614.1 3438.6L1615.6 3438.3L1617.1 3438.1L1618.6 3437.9L1620.1 3437.7L1621.6 3437.6L1623.2 3437.4L1624.7 3437.3L1626.2 3437.2L1627.7 3437.1L1629.2 3437.1L1630.7 3437.1L1632.3 3437.2L1633.8 3437.3L1635.4 3437.4L1636.9 3437.6L1638.5 3437.9L1639.8 3438.5L1641.1 3439.5L1642.4 3440.5L1643.7 3441.0L1645.3 3441.1L1646.9 3441.2L1648.4 3441.3L1650.0 3441.4L1651.6 3441.4L1653.1 3441.5L1654.7 3441.5L1656.2 3441.5L1657.8 3441.6L1659.4 3441.6L1660.9 3441.6L1662.5 3441.6L1664.0 3441.6L1665.6 3441.5L1667.1 3441.5L1668.6 3441.5L1670.2 3441.4L1671.7 3441.4L1673.3 3441.3L1674.8 3441.3L1676.3 3441.2L1677.9 3441.1L1679.4 3441.0L1681.0 3440.8L1682.6 3440.2L1684.2 3439.5L1685.8 3438.9L1687.4 3438.4L1688.9 3438.0L1690.4 3437.7L1691.9 3437.4L1693.4 3437.1L1694.9 3436.8L1696.4 3436.6L1697.9 3436.5L1699.4 3436.5L1700.8 3436.5L1702.3 3436.4L1703.7 3436.4L1705.1 3436.4L1706.6 3436.3L1708.0 3436.3L1709.5 3436.3L1710.9 3436.3L1712.4 3436.3L1713.8 3436.3L1715.3 3436.3L1716.7 3436.4L1718.2 3436.6L1719.7 3436.7L1721.1 3436.9L1722.6 3437.1L1724.1 3437.2L1725.6 3437.3L1727.0 3437.3L1728.6 3437.3L1730.1 3437.0L1731.6 3436.7L1733.2 3436.2L1734.7 3435.7L1736.3 3435.2L1737.9 3434.4L1739.4 3433.3L1741.0 3432.1L1742.6 3430.9L1744.2 3429.9L1745.9 3429.1L1747.5 3428.2L1749.2 3427.5L1750.8 3427.3L1752.5 3427.4L1754.1 3427.8L1755.8 3428.3L1757.4 3428.9L1759.1 3429.5L1760.7 3430.4L1762.4 3431.1L1764.0 3431.5L1765.4 3431.6L1766.7 3431.7L1768.0 3431.7L1769.3 3431.8L1771.0 3432.2L1772.6 3433.1L1774.3 3434.0L1775.9 3434.7L1777.6 3435.1L1779.2 3435.4L1780.9 3435.7L1782.5 3435.8L1784.1 3435.6L1785.7 3435.4L1787.3 3435.0L1788.9 3434.4L1790.5 3433.9L1792.1 3433.2L1793.6 3432.2L1795.2 3431.0L1796.8 3429.7L1798.4 3428.3L1800.1 3426.9L1801.7 3425.3L1803.4 3423.6L1805.0 3422.0L1806.3 3420.7L1807.7 3419.3L1809.0 3418.1L1810.3 3417.2L1811.6 3416.7L1812.9 3416.3L1814.3 3416.2L1815.6 3416.7L1816.9 3417.9L1818.2 3419.3L1819.6 3420.4L1821.1 3421.5L1822.7 3422.5L1824.3 3423.4L1825.9 3424.2L1827.5 3424.6L1829.1 3425.0L1830.7 3425.3L1832.2 3425.5L1833.8 3425.6L1835.4 3425.7L1836.9 3425.7L1838.5 3425.7L1840.0 3425.7L1841.6 3425.6L1843.2 3425.3L1844.8 3425.0L1846.3 3424.5L1847.9 3424.0L1849.5 3423.5L1851.1 3422.9L1852.7 3422.2L1854.3 3421.3L1855.9 3420.3L1857.4 3419.2L1859.0 3418.1L1860.6 3417.0L1862.2 3416.0L1863.8 3415.0L1865.4 3414.2L1867.1 3413.3L1868.7 3412.4L1870.3 3411.3L1871.9 3409.8L1873.3 3408.1L1874.7 3405.7L1876.1 3402.7L1877.5 3399.3L1878.9 3394.9L1880.3 3389.2L1881.6 3382.6L1883.0 3374.6L1884.4 3366.0L1886.6 3353.5L1888.9 3350.7L1891.1 3357.7L1893.3 3374.3L1894.7 3381.6L1896.1 3386.8L1897.9 3391.2L1899.7 3393.7L1901.1 3394.5L1902.5 3395.1L1903.8 3395.6L1905.2 3395.9L1906.6 3396.0L1908.0 3395.9L1909.4 3395.7L1910.8 3395.4L1912.2 3395.2L1913.6 3395.1L1915.0 3395.4L1916.3 3396.1L1917.7 3397.0L1919.1 3397.9L1920.5 3399.0L1921.9 3400.4L1923.3 3401.9L1924.7 3403.5L1926.1 3405.0L1927.4 3406.7L1928.8 3408.4L1930.2 3410.1L1931.6 3411.8L1933.0 3413.5L1934.4 3415.3L1935.8 3417.1L1937.2 3418.7L1938.5 3420.1L1939.9 3421.3L1941.3 3422.4L1942.7 3423.4L1944.1 3424.3L1945.5 3424.8L1947.1 3425.3L1948.7 3425.8L1950.2 3426.2L1951.8 3426.6L1953.4 3426.8L1955.0 3427.0L1956.6 3427.1L1958.2 3427.1L1959.8 3427.1L1961.3 3427.1L1962.9 3427.1L1964.5 3427.1L1966.1 3427.1L1967.7 3427.1L1969.1 3427.0L1970.5 3426.9L1971.9 3426.7L1973.2 3426.4L1974.6 3426.1L1976.0 3425.7L1977.4 3425.0L1978.8 3423.8L1980.2 3422.3L1981.6 3420.5L1983.0 3418.7L1984.3 3416.7L1985.7 3414.4L1987.1 3411.8L1988.5 3409.0L1989.9 3405.8L1991.3 3402.2L1992.7 3398.5L1994.1 3395.1L1995.5 3392.1L1996.8 3389.2L1998.2 3386.5L1999.6 3384.0L2001.0 3381.6L2002.4 3379.3L2003.8 3377.2L2005.2 3375.7L2006.7 3374.7L2008.3 3374.0L2009.9 3372.9L2011.7 3370.3L2013.5 3366.0L2014.9 3360.0L2016.3 3352.1L2017.7 3344.3L2019.0 3335.5L2020.4 3324.7L2021.8 3313.2L2023.2 3302.0L2024.6 3291.0L2026.0 3280.6L2027.4 3271.6L2029.6 3261.9L2031.5 3260.5L2033.5 3266.1L2035.7 3282.7L2037.6 3310.5L2039.9 3343.8L2042.1 3374.3L2044.3 3399.3L2045.6 3408.8L2046.8 3416.0L2048.6 3423.3L2050.4 3428.4L2052.0 3431.4L2053.6 3433.6L2055.1 3435.4L2056.5 3436.7L2057.9 3437.9L2059.3 3439.0L2060.7 3439.8L2062.1 3440.4L2063.7 3440.8L2065.2 3441.1L2066.8 3441.3L2068.4 3441.6L2070.0 3441.8L2071.6 3442.0L2073.2 3442.3L2074.8 3442.7L2076.4 3443.2L2077.9 3443.7L2079.5 3444.2L2081.1 3444.8L2082.7 3445.3L2084.3 3445.9L2085.8 3446.5L2087.4 3447.2L2088.9 3447.9L2090.5 3448.7L2092.0 3449.4L2093.5 3450.1L2095.1 3450.8L2096.6 3451.5L2098.2 3452.0L2099.7 3452.6L2101.2 3453.0L2102.7 3453.5L2104.2 3454.0L2105.7 3454.4L2107.2 3454.8L2108.8 3455.2L2110.3 3455.6L2111.8 3456.0L2113.3 3456.4L2114.8 3456.8L2116.3 3457.1L2117.8 3457.5L2119.3 3457.9L2120.8 3458.2L2122.3 3458.6L2123.8 3459.0L2125.3 3459.3L2126.8 3459.6L2128.3 3459.9L2129.8 3460.2L2131.3 3460.5L2132.8 3460.7L2134.2 3460.9L2135.7 3461.1L2137.2 3461.3L2138.7 3461.4L2140.2 3461.6L2141.7 3461.7L2143.2 3461.9L2144.7 3462.0L2146.2 3462.1L2147.7 3462.2L2149.2 3462.3L2150.7 3462.4L2152.2 3462.5L2153.7 3462.6L2155.2 3462.7L2156.7 3462.7L2158.2 3462.8L2159.7 3462.8L2161.2 3462.8L2162.6 3462.9L2164.1 3462.9L2165.6 3463.0L2167.1 3463.0L2168.6 3463.0L2170.1 3463.1L2171.6 3463.1L2173.1 3463.1L2174.6 3463.2L2176.1 3463.2L2177.6 3463.3L2179.0 3463.3L2180.5 3463.3L2182.0 3463.3L2183.5 3463.4L2185.0 3463.4L2186.4 3463.4L2187.9 3463.5L2189.4 3463.5L2190.9 3463.5L2192.4 3463.6L2193.8 3463.6L2195.3 3463.7L2196.8 3463.8L2198.3 3463.9L2199.8 3464.0L2201.3 3464.2L2202.8 3464.4L2204.3 3464.6L2205.8 3464.8L2207.3 3465.0L2208.8 3465.2L2210.3 3465.4L2211.8 3465.6L2213.3 3465.8L2214.8 3465.9L2216.3 3466.1L2217.8 3466.2L2219.3 3466.3L2220.8 3466.5L2222.3 3466.6L2223.8 3466.7L2225.4 3466.9L2226.9 3467.0L2228.4 3467.1L2229.9 3467.2L2231.4 3467.3L2233.0 3467.4L2234.6 3467.5L2236.3 3467.6L2237.9 3467.7L2239.5 3467.8L2241.1 3467.9" fill="none" stroke="#000" stroke-width="2.7" stroke-linejoin="round"/>
<rect x="173.5" y="1960.5" width="2071" height="1531" fill="none" stroke="#000" stroke-width="7"/>
<path d="M380.60 3492V3523M656.73 3492V3523M932.87 3492V3523M1209.00 3492V3523M1485.13 3492V3523M1761.27 3492V3523M2037.40 3492V3523" stroke="#000" stroke-width="7" fill="none"/>
<text transform="translate(329.71,3592.00) scale(1,1.05)" font-size="61.60">400</text>
<text transform="translate(605.84,3592.00) scale(1,1.05)" font-size="61.60">600</text>
<text transform="translate(881.98,3592.00) scale(1,1.05)" font-size="61.60">800</text>
<text transform="translate(1140.98,3592.00) scale(1,1.05)" font-size="61.60" dx="2.05 -2.05 0 0" clip-path="url(#c21)">1000</text>
<text transform="translate(1417.12,3592.00) scale(1,1.05)" font-size="61.60" dx="2.05 -2.05 0 0" clip-path="url(#c22)">1200</text>
<text transform="translate(1693.25,3592.00) scale(1,1.05)" font-size="61.60" dx="2.05 -2.05 0 0" clip-path="url(#c23)">1400</text>
<text transform="translate(1969.38,3592.00) scale(1,1.05)" font-size="61.60" dx="2.05 -2.05 0 0" clip-path="url(#c24)">1600</text>
<text transform="translate(805.44,3700.50) scale(1,1.04)" font-size="74.17" font-weight="bold" clip-path="url(#c25)">Raman Shift (cm<tspan font-size="48.21" dy="-34.86" dx="0 1.11">-1</tspan><tspan dy="34.86" dx="-1.11">)</tspan></text>
<text transform="translate(122.30,2955.64) rotate(-90) scale(1,1.025)" font-size="75.34" font-weight="bold" fill="#000">Raman Intensity (a.u.)</text>
<text transform="translate(215.88,2087.00) scale(1,1.0)" font-size="94.80" font-weight="bold" fill="#000">(b)</text>
<text transform="translate(208.23,2899.30) scale(1,1.0)" font-size="95.67" font-weight="bold" fill="#000">(a)</text>
<text transform="translate(336.19,2913.00) scale(1,1.045)" font-size="93.99" font-weight="bold" fill="#ff0000">SERS of PATP at 785 nm</text>
<text transform="translate(377.83,2703.84) rotate(-90) scale(1,1.035)" font-size="75.70" fill="#000" dx="0 0 0 0 0 0 0 0 0 0 2.51" clip-path="url(#c26)">380 - PATP1</text>
<text transform="translate(740.63,2736.72) rotate(-90) scale(1,1.035)" font-size="75.70" fill="#000" dx="0 0 0 0 0 0 0 0 0 0 2.51" clip-path="url(#c27)">648 - PATP1</text>
<text transform="translate(1149.53,2693.47) rotate(-90) scale(1,1.035)" font-size="75.70" fill="#000" dx="2.51 -2.51 0 0 0 0 0 0 0 0 0 2.51" clip-path="url(#c28)">1022 - PATP1</text>
<text transform="translate(1342.57,2427.89) rotate(-90) scale(1,1.035)" font-size="72.50" fill="#000" dx="2.41 -2.41 0 0 0 0 0 0 0 0 0 2.41" clip-path="url(#c29)">1092 - PATP1</text>
<text transform="translate(1441.93,2753.22) rotate(-90) scale(1,1.035)" font-size="75.70" fill="#000" dx="2.51 0 -2.51 0 0 0 0 0 0 0 0 2.51" clip-path="url(#c30)">1148 - DMAB1</text>
<text transform="translate(1557.63,2635.12) rotate(-90) scale(1,1.035)" font-size="75.70" fill="#000" dx="2.51 0 -2.51 0 0 0 0 0 0 0 0 2.51" clip-path="url(#c31)">1198 - PATP1</text>
<text transform="translate(1671.83,2682.67) rotate(-90) scale(1,1.035)" font-size="75.70" fill="#000" dx="2.51 -2.51 0 0 0 0 0 0 0 0 0 2.51" clip-path="url(#c32)">1300 - DMAB1</text>
<text transform="translate(1775.03,2759.47) rotate(-90) scale(1,1.035)" font-size="75.70" fill="#000" dx="2.51 -2.51 0 0 0 0 0 0 0 0 0 2.51" clip-path="url(#c33)">1394 - DMAB1</text>
<text transform="translate(1936.93,2699.47) rotate(-90) scale(1,1.035)" font-size="75.70" fill="#000" dx="2.51 -2.51 2.51 -2.51 0 0 0 0 0 0 0 2.51" clip-path="url(#c34)">1510 - PATP1</text>
<text transform="translate(2099.92,2390.59) rotate(-90) scale(1,1.035)" font-size="67.20" fill="#000" dx="2.23 -2.23 0 0 0 0 0 0 0 0 0 2.23" clip-path="url(#c35)">1630 - PATP1</text>
<text transform="translate(2194.63,2629.57) rotate(-90) scale(1,1.035)" font-size="75.70" fill="#000" dx="2.51 -2.51 0 0 0 0 0 0 0 0 0 2.51" clip-path="url(#c36)">1660 - PATP1</text>
<text transform="translate(390.83,3135.26) rotate(-90) scale(1,1.035)" font-size="75.70" fill="#000">390</text>
<text transform="translate(716.73,3318.38) rotate(-90) scale(1,1.035)" font-size="75.70" fill="#000">638</text>
<text transform="translate(1232.33,3310.88) rotate(-90) scale(1,1.035)" font-size="75.70" fill="#000" dx="2.51 -2.51 0 0" clip-path="url(#c37)">1005</text>
<text transform="translate(1307.23,3100.97) rotate(-90) scale(1,1.035)" font-size="75.70" fill="#000" dx="2.51 -2.51 0 0" clip-path="url(#c38)">1077</text>
<text transform="translate(1420.73,3347.81) rotate(-90) scale(1,1.035)" font-size="75.70" fill="#000" dx="2.51 0 -2.51 0" clip-path="url(#c39)">1146</text>
<text transform="translate(1527.83,3149.63) rotate(-90) scale(1,1.035)" font-size="75.70" fill="#000" dx="2.51 0 -2.51 0" clip-path="url(#c40)">1178</text>
<text transform="translate(1801.53,3272.06) rotate(-90) scale(1,1.035)" font-size="75.70" fill="#000" dx="2.51 -2.51 0 0" clip-path="url(#c41)">1394</text>
<text transform="translate(1902.93,3313.32) rotate(-90) scale(1,1.035)" font-size="75.70" fill="#000" dx="2.51 -2.51 0 0" clip-path="url(#c42)">1492</text>
<text transform="translate(2007.63,3201.39) rotate(-90) scale(1,1.035)" font-size="75.70" fill="#000" dx="2.51 -2.51 0 0" clip-path="url(#c43)">1580</text>
<text transform="translate(2120.43,3114.73) rotate(-90) scale(1,1.035)" font-size="75.70" fill="#000" dx="2.51 -2.51 0 0" clip-path="url(#c44)">1595</text>
<text transform="translate(2188.73,3299.44) rotate(-90) scale(1,1.035)" font-size="75.70" fill="#000" dx="2.51 -2.51 0 0" clip-path="url(#c45)">1630</text>
<path d="M1184.6 2691.0L1243.8 2723.4M1525.1 2660.0L1486.7 2743.3M2166.7 2649.4L2131.6 2711.8M1497.7 3160.3L1474.6 3318.1M1786.9 3276.0L1799.8 3374.5M1988.1 3227.9L2002.0 3328.3M2106.6 3116.8L2040.4 3227.4M2151.5 3321.3L2084.4 3382.8" stroke="#000" stroke-width="4.8" fill="none"/>
<path d="M1645.6 2683.2L1627.8 2734.6" stroke="#000" stroke-width="2.4" fill="none"/>
</g>
</g>
</svg>
</body>
</html>
